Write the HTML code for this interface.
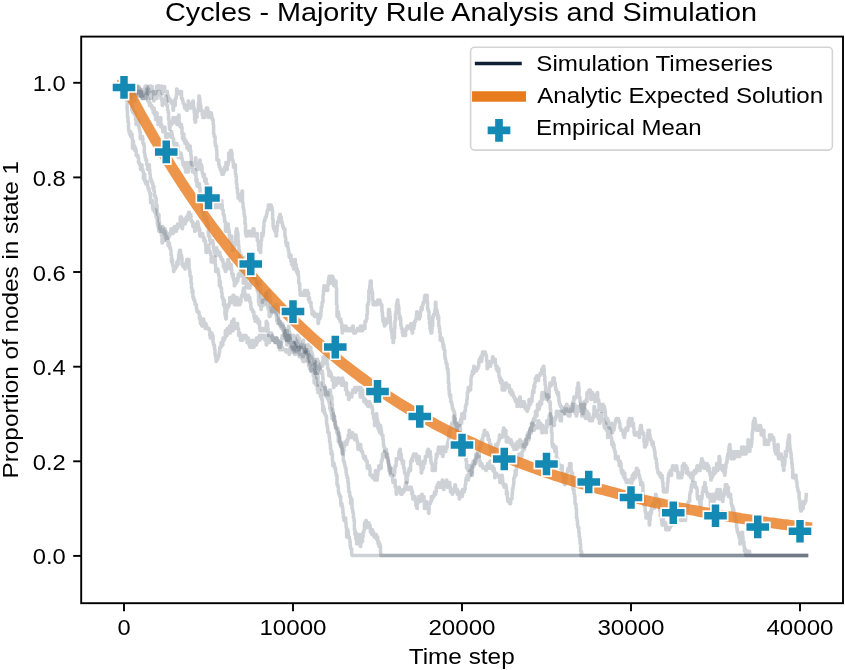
<!DOCTYPE html>
<html><head><meta charset="utf-8"><title>Cycles - Majority Rule Analysis and Simulation</title>
<style>html,body{margin:0;padding:0;background:#fff;}body{width:845px;height:670px;overflow:hidden;font-family:"Liberation Sans",sans-serif;}</style></head>
<body>
<svg width="845" height="670" viewBox="0 0 845 670" style="display:block;will-change:transform;font-family:'Liberation Sans',sans-serif">
<rect x="0" y="0" width="845" height="670" fill="#ffffff"/>
<defs><clipPath id="ax"><rect x="81.2" y="36.6" width="761.8" height="566.6"/></clipPath></defs>
<g clip-path="url(#ax)">
<path d="M124.0,89.0 L124.5,89.0 L124.9,89.0 L125.4,89.0 L125.8,89.0 L125.8,91.4 L126.3,91.4 L126.3,93.7 L126.8,93.7 L126.8,89.0 L127.2,89.0 L127.2,91.4 L127.7,91.4 L127.7,89.0 L128.2,89.0 L128.6,89.0 L128.6,86.6 L129.1,86.6 L129.5,86.6 L129.5,89.0 L130.0,89.0 L130.0,91.4 L130.5,91.4 L130.5,93.7 L130.9,93.7 L130.9,89.0 L131.4,89.0 L131.4,86.6 L131.8,86.6 L131.8,91.4 L132.3,91.4 L132.3,86.0 L132.7,86.0 L132.7,86.6 L133.2,86.6 L133.6,86.6 L133.6,91.4 L134.1,91.4 L134.1,93.7 L134.6,93.7 L134.6,91.4 L135.0,91.4 L135.0,89.0 L135.5,89.0 L135.9,89.0 L135.9,93.7 L136.4,93.7 L136.4,89.0 L136.8,89.0 L137.3,89.0 L137.7,89.0 L138.2,89.0 L138.7,89.0 L138.7,86.6 L139.1,86.6 L139.1,89.0 L139.6,89.0 L140.1,89.0 L140.1,93.7 L140.6,93.7 L140.6,96.1 L141.0,96.1 L141.0,93.7 L141.5,93.7 L141.5,96.1 L142.0,96.1 L142.0,93.7 L142.5,93.7 L142.5,96.1 L142.9,96.1 L142.9,93.7 L143.4,93.7 L143.9,93.7 L143.9,89.0 L144.4,89.0 L144.4,91.4 L144.9,91.4 L144.9,86.6 L145.4,86.6 L145.4,86.0 L145.9,86.0 L146.3,86.0 L146.8,86.0 L146.8,86.6 L147.3,86.6 L147.3,93.7 L147.8,93.7 L147.8,89.0 L148.2,89.0 L148.7,89.0 L148.7,91.4 L149.2,91.4 L149.2,93.7 L149.7,93.7 L150.1,93.7 L150.1,96.1 L150.6,96.1 L150.6,98.5 L151.0,98.5 L151.5,98.5 L151.5,93.7 L151.9,93.7 L152.4,93.7 L152.8,93.7 L152.8,91.4 L153.3,91.4 L153.3,93.7 L153.8,93.7 L153.8,91.4 L154.2,91.4 L154.2,93.7 L154.7,93.7 L155.1,93.7 L155.6,93.7 L155.6,91.4 L156.0,91.4 L156.5,91.4 L156.5,86.6 L157.0,86.6 L157.0,86.0 L157.4,86.0 L157.4,89.0 L157.9,89.0 L157.9,86.0 L158.4,86.0 L158.4,89.0 L158.9,89.0 L158.9,86.0 L159.3,86.0 L159.3,89.0 L159.8,89.0 L159.8,86.6 L160.3,86.6 L160.3,89.0 L160.8,89.0 L161.2,89.0 L161.2,86.0 L161.7,86.0 L161.7,89.0 L162.2,89.0 L162.2,93.7 L162.7,93.7 L162.7,91.4 L163.2,91.4 L163.2,89.0 L163.7,89.0 L164.2,89.0 L164.2,86.6 L164.7,86.6 L164.7,91.4 L165.2,91.4 L165.6,91.4 L166.1,91.4 L166.5,91.4 L167.0,91.4 L167.5,91.4 L167.5,96.1 L167.9,96.1 L168.4,96.1 L168.4,100.9 L168.8,100.9 L169.3,100.9 L169.3,98.5 L169.8,98.5 L169.8,100.9 L170.2,100.9 L170.7,100.9 L171.2,100.9 L171.2,103.2 L171.6,103.2 L172.1,103.2 L172.1,100.9 L172.5,100.9 L172.5,103.2 L173.0,103.2 L173.0,110.3 L173.5,110.3 L173.5,105.6 L173.9,105.6 L173.9,100.9 L174.4,100.9 L174.4,103.2 L174.8,103.2 L174.8,105.6 L175.3,105.6 L175.3,98.5 L175.7,98.5 L176.2,98.5 L176.2,96.1 L176.6,96.1 L176.6,89.0 L177.1,89.0 L177.1,93.7 L177.5,93.7 L177.5,91.4 L178.0,91.4 L178.5,91.4 L179.0,91.4 L179.0,93.7 L179.5,93.7 L180.0,93.7 L180.5,93.7 L180.5,91.4 L181.0,91.4 L181.5,91.4 L181.5,98.5 L182.0,98.5 L182.5,98.5 L182.5,100.9 L183.0,100.9 L183.0,103.2 L183.5,103.2 L184.0,103.2 L184.0,105.6 L184.5,105.6 L184.5,108.0 L185.0,108.0 L185.4,108.0 L185.4,105.6 L185.9,105.6 L186.3,105.6 L186.3,110.3 L186.8,110.3 L187.3,110.3 L187.3,108.0 L187.7,108.0 L187.7,105.6 L188.2,105.6 L188.2,100.9 L188.7,100.9 L188.7,105.6 L189.1,105.6 L189.1,108.0 L189.6,108.0 L189.6,105.6 L190.0,105.6 L190.5,105.6 L191.0,105.6 L191.0,108.0 L191.4,108.0 L191.9,108.0 L191.9,103.2 L192.3,103.2 L192.3,105.6 L192.8,105.6 L192.8,100.9 L193.3,100.9 L193.3,105.6 L193.7,105.6 L193.7,108.0 L194.2,108.0 L194.2,112.7 L194.6,112.7 L194.6,119.8 L195.1,119.8 L195.1,122.2 L195.5,122.2 L195.5,117.4 L196.0,117.4 L196.0,115.1 L196.5,115.1 L196.5,117.4 L197.0,117.4 L197.0,112.7 L197.5,112.7 L197.5,110.3 L197.9,110.3 L198.4,110.3 L198.4,103.2 L198.9,103.2 L198.9,96.1 L199.4,96.1 L199.4,98.5 L199.9,98.5 L199.9,103.2 L200.3,103.2 L200.3,105.6 L200.8,105.6 L200.8,110.3 L201.3,110.3 L201.8,110.3 L202.2,110.3 L202.2,115.1 L202.7,115.1 L202.7,117.4 L203.2,117.4 L203.2,112.7 L203.6,112.7 L203.6,117.4 L204.1,117.4 L204.5,117.4 L205.0,117.4 L205.0,115.1 L205.4,115.1 L205.4,112.7 L205.9,112.7 L205.9,110.3 L206.3,110.3 L206.3,108.0 L206.8,108.0 L206.8,110.3 L207.2,110.3 L207.2,108.0 L207.7,108.0 L207.7,110.3 L208.2,110.3 L208.2,112.7 L208.6,112.7 L208.6,117.4 L209.1,117.4 L209.1,112.7 L209.5,112.7 L209.5,115.1 L210.0,115.1 L210.4,115.1 L210.9,115.1 L210.9,112.7 L211.3,112.7 L211.3,115.1 L211.8,115.1 L211.8,117.4 L212.2,117.4 L212.2,119.8 L212.7,119.8 L213.2,119.8 L213.2,124.6 L213.6,124.6 L213.6,134.0 L214.1,134.0 L214.1,136.4 L214.6,136.4 L215.1,136.4 L215.1,143.5 L215.5,143.5 L215.5,145.9 L216.0,145.9 L216.5,145.9 L216.5,150.6 L216.9,150.6 L216.9,160.1 L217.4,160.1 L217.9,160.1 L218.4,160.1 L218.8,160.1 L218.8,164.8 L219.3,164.8 L219.3,167.2 L219.8,167.2 L220.2,167.2 L220.2,169.6 L220.7,169.6 L221.2,169.6 L221.2,172.0 L221.7,172.0 L221.7,174.3 L222.1,174.3 L222.6,174.3 L222.6,172.0 L223.1,172.0 L223.1,174.3 L223.5,174.3 L223.5,169.6 L224.0,169.6 L224.0,172.0 L224.5,172.0 L224.5,167.2 L224.9,167.2 L225.4,167.2 L225.9,167.2 L225.9,162.5 L226.3,162.5 L226.3,167.2 L226.8,167.2 L226.8,169.6 L227.3,169.6 L227.3,164.8 L227.7,164.8 L228.2,164.8 L228.2,162.5 L228.7,162.5 L228.7,153.0 L229.1,153.0 L229.1,155.4 L229.6,155.4 L230.1,155.4 L230.5,155.4 L230.5,150.6 L231.0,150.6 L231.5,150.6 L231.5,153.0 L232.0,153.0 L232.0,160.1 L232.5,160.1 L233.0,160.1 L233.0,162.5 L233.4,162.5 L233.4,167.2 L233.9,167.2 L234.4,167.2 L234.9,167.2 L234.9,164.8 L235.4,164.8 L235.4,174.3 L235.9,174.3 L235.9,176.7 L236.4,176.7 L236.4,183.8 L236.9,183.8 L236.9,188.5 L237.5,188.5 L237.5,193.3 L238.0,193.3 L238.0,198.0 L238.5,198.0 L239.0,198.0 L239.0,195.7 L239.5,195.7 L240.0,195.7 L240.0,200.4 L240.5,200.4 L240.5,198.0 L241.0,198.0 L241.0,195.7 L241.5,195.7 L241.5,193.3 L242.0,193.3 L242.0,190.9 L242.5,190.9 L242.5,202.8 L243.0,202.8 L243.0,207.5 L243.5,207.5 L243.5,209.9 L244.0,209.9 L244.0,214.6 L244.5,214.6 L244.5,217.0 L245.0,217.0 L245.0,224.1 L245.5,224.1 L245.5,233.6 L246.0,233.6 L246.0,235.9 L246.5,235.9 L246.9,235.9 L247.4,235.9 L247.9,235.9 L247.9,231.2 L248.3,231.2 L248.8,231.2 L249.3,231.2 L249.3,233.6 L249.8,233.6 L249.8,231.2 L250.2,231.2 L250.2,233.6 L250.7,233.6 L250.7,235.9 L251.2,235.9 L251.2,233.6 L251.6,233.6 L251.6,231.2 L252.1,231.2 L252.6,231.2 L253.0,231.2 L253.0,228.8 L253.5,228.8 L254.0,228.8 L254.0,235.9 L254.5,235.9 L254.5,233.6 L254.9,233.6 L255.4,233.6 L255.9,233.6 L255.9,235.9 L256.4,235.9 L256.4,233.6 L256.8,233.6 L257.3,233.6 L257.3,240.7 L257.8,240.7 L258.3,240.7 L258.3,245.4 L258.7,245.4 L258.7,250.2 L259.2,250.2 L259.7,250.2 L260.2,250.2 L260.2,252.5 L260.7,252.5 L260.7,245.4 L261.1,245.4 L261.1,240.7 L261.6,240.7 L261.6,233.6 L262.1,233.6 L262.6,233.6 L262.6,235.9 L263.0,235.9 L263.0,233.6 L263.5,233.6 L263.5,226.5 L264.0,226.5 L264.0,221.7 L264.5,221.7 L264.5,219.4 L264.9,219.4 L265.4,219.4 L265.4,217.0 L265.9,217.0 L266.4,217.0 L266.4,214.6 L266.9,214.6 L266.9,212.2 L267.3,212.2 L267.3,209.9 L267.8,209.9 L268.3,209.9 L268.3,205.1 L268.8,205.1 L269.2,205.1 L269.2,207.5 L269.7,207.5 L269.7,205.1 L270.2,205.1 L270.7,205.1 L271.2,205.1 L271.2,209.9 L271.7,209.9 L271.7,207.5 L272.1,207.5 L272.1,209.9 L272.6,209.9 L272.6,219.4 L273.1,219.4 L273.1,226.5 L273.6,226.5 L273.6,228.8 L274.1,228.8 L274.1,226.5 L274.6,226.5 L274.6,231.2 L275.1,231.2 L275.1,228.8 L275.6,228.8 L275.6,231.2 L276.0,231.2 L276.0,235.9 L276.5,235.9 L276.5,231.2 L277.0,231.2 L277.0,226.5 L277.5,226.5 L277.5,221.7 L277.9,221.7 L278.4,221.7 L278.9,221.7 L278.9,217.0 L279.4,217.0 L279.8,217.0 L279.8,214.6 L280.3,214.6 L280.3,217.0 L280.8,217.0 L281.3,217.0 L281.3,221.7 L281.7,221.7 L282.2,221.7 L282.2,224.1 L282.6,224.1 L282.6,226.5 L283.1,226.5 L283.5,226.5 L283.5,228.8 L284.0,228.8 L284.4,228.8 L284.9,228.8 L284.9,235.9 L285.3,235.9 L285.3,238.3 L285.8,238.3 L285.8,243.1 L286.3,243.1 L286.3,245.4 L286.8,245.4 L286.8,243.1 L287.2,243.1 L287.7,243.1 L287.7,247.8 L288.2,247.8 L288.2,250.2 L288.7,250.2 L288.7,252.5 L289.1,252.5 L289.1,257.3 L289.6,257.3 L290.1,257.3 L290.1,254.9 L290.6,254.9 L291.0,254.9 L291.0,262.0 L291.5,262.0 L291.5,264.4 L292.0,264.4 L292.0,259.6 L292.5,259.6 L292.5,264.4 L292.9,264.4 L292.9,266.8 L293.4,266.8 L293.4,269.1 L293.9,269.1 L293.9,264.4 L294.4,264.4 L294.4,262.0 L294.9,262.0 L294.9,259.6 L295.3,259.6 L295.3,266.8 L295.8,266.8 L295.8,264.4 L296.3,264.4 L296.3,271.5 L296.8,271.5 L296.8,269.1 L297.3,269.1 L297.3,273.9 L297.8,273.9 L297.8,271.5 L298.2,271.5 L298.2,276.2 L298.7,276.2 L298.7,283.3 L299.2,283.3 L299.7,283.3 L299.7,290.5 L300.2,290.5 L300.2,295.2 L300.7,295.2 L301.2,295.2 L301.6,295.2 L302.1,295.2 L302.5,295.2 L303.0,295.2 L303.0,292.8 L303.4,292.8 L303.9,292.8 L304.4,292.8 L304.4,290.5 L304.8,290.5 L304.8,292.8 L305.3,292.8 L305.3,295.2 L305.7,295.2 L305.7,290.5 L306.2,290.5 L306.2,292.8 L306.6,292.8 L307.1,292.8 L307.1,290.5 L307.5,290.5 L307.5,295.2 L308.0,295.2 L308.0,292.8 L308.5,292.8 L308.5,299.9 L309.0,299.9 L309.0,297.6 L309.5,297.6 L309.5,302.3 L310.0,302.3 L310.5,302.3 L311.0,302.3 L311.0,307.0 L311.5,307.0 L311.5,309.4 L312.0,309.4 L312.0,314.2 L312.5,314.2 L312.9,314.2 L312.9,311.8 L313.4,311.8 L313.9,311.8 L313.9,314.2 L314.3,314.2 L314.3,316.5 L314.8,316.5 L314.8,314.2 L315.2,314.2 L315.2,316.5 L315.7,316.5 L315.7,314.2 L316.2,314.2 L316.2,316.5 L316.6,316.5 L317.1,316.5 L317.1,314.2 L317.5,314.2 L317.5,316.5 L318.0,316.5 L318.0,323.6 L318.5,323.6 L318.5,318.9 L318.9,318.9 L319.4,318.9 L319.9,318.9 L319.9,316.5 L320.3,316.5 L320.8,316.5 L320.8,311.8 L321.2,311.8 L321.2,307.0 L321.7,307.0 L322.1,307.0 L322.1,302.3 L322.6,302.3 L323.0,302.3 L323.0,295.2 L323.5,295.2 L323.5,290.5 L323.9,290.5 L323.9,285.7 L324.4,285.7 L324.4,290.5 L324.9,290.5 L324.9,288.1 L325.3,288.1 L325.8,288.1 L326.3,288.1 L326.8,288.1 L326.8,285.7 L327.2,285.7 L327.2,290.5 L327.7,290.5 L327.7,285.7 L328.2,285.7 L328.2,281.0 L328.6,281.0 L328.6,278.6 L329.1,278.6 L329.1,276.2 L329.6,276.2 L329.6,281.0 L330.1,281.0 L330.1,283.3 L330.5,283.3 L330.5,278.6 L331.0,278.6 L331.0,276.2 L331.5,276.2 L331.9,276.2 L331.9,283.3 L332.4,283.3 L332.4,276.2 L332.8,276.2 L332.8,281.0 L333.3,281.0 L333.3,278.6 L333.7,278.6 L333.7,285.7 L334.2,285.7 L334.2,283.3 L334.6,283.3 L335.1,283.3 L335.1,281.0 L335.5,281.0 L336.0,281.0 L336.0,288.1 L336.5,288.1 L336.5,304.7 L337.0,304.7 L337.0,316.5 L337.5,316.5 L337.9,316.5 L337.9,311.8 L338.4,311.8 L338.4,314.2 L338.9,314.2 L338.9,318.9 L339.4,318.9 L339.9,318.9 L339.9,321.3 L340.3,321.3 L340.3,318.9 L340.8,318.9 L340.8,321.3 L341.3,321.3 L341.3,323.6 L341.8,323.6 L341.8,328.4 L342.2,328.4 L342.2,333.1 L342.7,333.1 L342.7,330.8 L343.2,330.8 L343.2,326.0 L343.7,326.0 L343.7,328.4 L344.1,328.4 L344.6,328.4 L344.6,326.0 L345.1,326.0 L345.1,328.4 L345.5,328.4 L345.5,326.0 L346.0,326.0 L346.0,330.8 L346.4,330.8 L346.9,330.8 L347.3,330.8 L347.8,330.8 L347.8,328.4 L348.2,328.4 L348.7,328.4 L349.1,328.4 L349.6,328.4 L349.6,330.8 L350.1,330.8 L350.5,330.8 L350.5,328.4 L351.0,328.4 L351.0,330.8 L351.4,330.8 L351.4,328.4 L351.9,328.4 L352.3,328.4 L352.3,330.8 L352.8,330.8 L352.8,326.0 L353.2,326.0 L353.2,330.8 L353.7,330.8 L353.7,333.1 L354.1,333.1 L354.6,333.1 L355.1,333.1 L355.5,333.1 L355.5,330.8 L356.0,330.8 L356.5,330.8 L357.0,330.8 L357.4,330.8 L357.4,328.4 L357.9,328.4 L357.9,330.8 L358.4,330.8 L358.8,330.8 L359.3,330.8 L359.3,328.4 L359.8,328.4 L359.8,330.8 L360.3,330.8 L360.3,326.0 L360.7,326.0 L360.7,328.4 L361.2,328.4 L361.2,330.8 L361.7,330.8 L362.1,330.8 L362.6,330.8 L362.6,328.4 L363.1,328.4 L363.1,326.0 L363.6,326.0 L363.6,328.4 L364.0,328.4 L364.5,328.4 L365.0,328.4 L365.0,321.3 L365.5,321.3 L365.9,321.3 L366.4,321.3 L366.4,318.9 L366.9,318.9 L366.9,314.2 L367.4,314.2 L367.4,304.7 L367.8,304.7 L368.3,304.7 L368.3,302.3 L368.8,302.3 L368.8,290.5 L369.3,290.5 L369.3,292.8 L369.7,292.8 L369.7,285.7 L370.2,285.7 L370.2,281.0 L370.7,281.0 L371.2,281.0 L371.2,288.1 L371.6,288.1 L371.6,290.5 L372.1,290.5 L372.1,292.8 L372.6,292.8 L372.6,299.9 L373.1,299.9 L373.1,304.7 L373.6,304.7 L374.0,304.7 L374.5,304.7 L375.0,304.7 L375.0,302.3 L375.4,302.3 L375.4,304.7 L375.9,304.7 L376.3,304.7 L376.8,304.7 L377.2,304.7 L377.2,302.3 L377.7,302.3 L377.7,299.9 L378.1,299.9 L378.1,302.3 L378.6,302.3 L379.0,302.3 L379.5,302.3 L379.5,299.9 L380.0,299.9 L380.0,302.3 L380.5,302.3 L380.5,304.7 L381.0,304.7 L381.5,304.7 L381.9,304.7 L381.9,311.8 L382.4,311.8 L382.4,316.5 L382.9,316.5 L382.9,321.3 L383.4,321.3 L383.4,318.9 L383.9,318.9 L383.9,323.6 L384.4,323.6 L384.4,326.0 L384.9,326.0 L384.9,323.6 L385.3,323.6 L385.3,318.9 L385.8,318.9 L386.2,318.9 L386.2,323.6 L386.7,323.6 L386.7,321.3 L387.1,321.3 L387.1,318.9 L387.6,318.9 L388.0,318.9 L388.5,318.9 L388.5,309.4 L388.9,309.4 L389.4,309.4 L389.4,311.8 L389.8,311.8 L389.8,316.5 L390.3,316.5 L390.3,323.6 L390.8,323.6 L390.8,328.4 L391.2,328.4 L391.2,330.8 L391.6,330.8 L391.6,333.1 L392.1,333.1 L392.1,337.9 L392.6,337.9 L393.0,337.9 L393.0,342.6 L393.5,342.6 L393.5,337.9 L394.0,337.9 L394.5,337.9 L394.5,328.4 L394.9,328.4 L394.9,321.3 L395.4,321.3 L395.4,314.2 L395.9,314.2 L395.9,311.8 L396.4,311.8 L396.4,304.7 L396.9,304.7 L396.9,302.3 L397.4,302.3 L397.4,299.9 L397.9,299.9 L397.9,304.7 L398.4,304.7 L398.4,307.0 L398.9,307.0 L398.9,314.2 L399.4,314.2 L399.4,318.9 L399.8,318.9 L399.8,316.5 L400.3,316.5 L400.3,318.9 L400.8,318.9 L400.8,326.0 L401.3,326.0 L401.3,328.4 L401.8,328.4 L402.3,328.4 L402.3,333.1 L402.8,333.1 L402.8,335.5 L403.2,335.5 L403.7,335.5 L403.7,333.1 L404.2,333.1 L404.2,335.5 L404.7,335.5 L404.7,333.1 L405.2,333.1 L405.2,335.5 L405.6,335.5 L405.6,330.8 L406.1,330.8 L406.1,328.4 L406.6,328.4 L407.1,328.4 L407.1,326.0 L407.6,326.0 L407.6,328.4 L408.0,328.4 L408.5,328.4 L408.5,326.0 L409.0,326.0 L409.5,326.0 L409.9,326.0 L409.9,328.4 L410.4,328.4 L410.4,326.0 L410.8,326.0 L410.8,323.6 L411.3,323.6 L411.3,326.0 L411.7,326.0 L411.7,330.8 L412.2,330.8 L412.2,333.1 L412.6,333.1 L412.6,328.4 L413.1,328.4 L413.1,326.0 L413.5,326.0 L413.5,328.4 L414.0,328.4 L414.0,326.0 L414.5,326.0 L414.5,321.3 L414.9,321.3 L415.4,321.3 L415.8,321.3 L415.8,318.9 L416.3,318.9 L416.3,314.2 L416.7,314.2 L416.7,311.8 L417.2,311.8 L417.2,316.5 L417.6,316.5 L418.1,316.5 L418.5,316.5 L419.0,316.5 L419.0,318.9 L419.5,318.9 L419.5,316.5 L419.9,316.5 L420.4,316.5 L420.4,311.8 L420.8,311.8 L420.8,309.4 L421.3,309.4 L421.3,307.0 L421.7,307.0 L421.7,309.4 L422.2,309.4 L422.2,307.0 L422.6,307.0 L422.6,304.7 L423.1,304.7 L423.1,302.3 L423.5,302.3 L424.0,302.3 L424.4,302.3 L424.4,297.6 L424.9,297.6 L424.9,295.2 L425.3,295.2 L425.8,295.2 L425.8,299.9 L426.2,299.9 L426.7,299.9 L426.7,295.2 L427.2,295.2 L427.2,302.3 L427.6,302.3 L427.6,309.4 L428.1,309.4 L428.5,309.4 L428.5,311.8 L429.0,311.8 L429.0,318.9 L429.5,318.9 L429.5,323.6 L429.9,323.6 L429.9,328.4 L430.4,328.4 L430.4,330.8 L430.9,330.8 L430.9,333.1 L431.3,333.1 L431.8,333.1 L431.8,328.4 L432.2,328.4 L432.2,326.0 L432.7,326.0 L432.7,316.5 L433.1,316.5 L433.6,316.5 L433.6,314.2 L434.0,314.2 L434.5,314.2 L434.9,314.2 L434.9,309.4 L435.4,309.4 L435.4,302.3 L435.9,302.3 L435.9,309.4 L436.4,309.4 L436.8,309.4 L436.8,311.8 L437.3,311.8 L437.3,314.2 L437.8,314.2 L437.8,318.9 L438.3,318.9 L438.3,316.5 L438.7,316.5 L438.7,326.0 L439.2,326.0 L439.2,328.4 L439.7,328.4 L439.7,333.1 L440.2,333.1 L440.2,340.2 L440.6,340.2 L441.1,340.2 L441.1,337.9 L441.6,337.9 L442.1,337.9 L442.1,340.2 L442.5,340.2 L442.5,342.6 L443.0,342.6 L443.0,347.3 L443.4,347.3 L443.4,345.0 L443.9,345.0 L443.9,349.7 L444.3,349.7 L444.8,349.7 L444.8,356.8 L445.2,356.8 L445.2,359.2 L445.7,359.2 L445.7,361.6 L446.1,361.6 L446.1,363.9 L446.6,363.9 L447.1,363.9 L447.1,368.7 L447.5,368.7 L448.0,368.7 L448.0,373.4 L448.4,373.4 L448.4,382.9 L448.9,382.9 L448.9,390.0 L449.3,390.0 L449.3,394.7 L449.8,394.7 L449.8,397.1 L450.2,397.1 L450.2,394.7 L450.7,394.7 L450.7,401.8 L451.1,401.8 L451.6,401.8 L451.6,404.2 L452.1,404.2 L452.1,406.6 L452.5,406.6 L452.5,409.0 L453.0,409.0 L453.4,409.0 L453.4,411.3 L453.9,411.3 L454.3,411.3 L454.3,413.7 L454.8,413.7 L454.8,423.2 L455.2,423.2 L455.7,423.2 L456.1,423.2 L456.1,425.5 L456.6,425.5 L456.6,430.3 L457.1,430.3 L457.1,425.5 L457.5,425.5 L457.5,423.2 L458.0,423.2 L458.0,425.5 L458.5,425.5 L458.9,425.5 L458.9,423.2 L459.4,423.2 L459.4,425.5 L459.8,425.5 L459.8,423.2 L460.3,423.2 L460.3,420.8 L460.8,420.8 L460.8,418.4 L461.2,418.4 L461.2,423.2 L461.7,423.2 L461.7,413.7 L462.1,413.7 L462.6,413.7 L463.1,413.7 L463.1,416.1 L463.5,416.1 L464.0,416.1 L464.0,418.4 L464.5,418.4 L464.5,411.3 L464.9,411.3 L465.4,411.3 L465.4,406.6 L465.9,406.6 L465.9,404.2 L466.3,404.2 L466.8,404.2 L466.8,399.5 L467.3,399.5 L467.3,392.4 L467.8,392.4 L468.2,392.4 L468.2,387.6 L468.7,387.6 L469.2,387.6 L469.6,387.6 L470.1,387.6 L470.1,390.0 L470.6,390.0 L470.6,385.3 L471.0,385.3 L471.0,378.1 L471.5,378.1 L471.5,375.8 L472.0,375.8 L472.0,373.4 L472.4,373.4 L472.4,371.0 L472.9,371.0 L472.9,373.4 L473.3,373.4 L473.8,373.4 L473.8,366.3 L474.2,366.3 L474.2,371.0 L474.7,371.0 L475.1,371.0 L475.6,371.0 L475.6,368.7 L476.0,368.7 L476.0,371.0 L476.5,371.0 L476.5,368.7 L476.9,368.7 L477.4,368.7 L477.9,368.7 L477.9,366.3 L478.3,366.3 L478.8,366.3 L478.8,361.6 L479.2,361.6 L479.2,359.2 L479.7,359.2 L480.2,359.2 L480.6,359.2 L480.6,356.8 L481.1,356.8 L481.1,361.6 L481.6,361.6 L481.6,359.2 L482.0,359.2 L482.0,354.4 L482.5,354.4 L482.5,352.1 L482.9,352.1 L483.4,352.1 L483.4,354.4 L483.9,354.4 L483.9,352.1 L484.3,352.1 L484.8,352.1 L485.3,352.1 L485.3,354.4 L485.7,354.4 L486.2,354.4 L486.2,356.8 L486.6,356.8 L486.6,361.6 L487.1,361.6 L487.1,368.7 L487.5,368.7 L487.5,363.9 L488.0,363.9 L488.0,361.6 L488.4,361.6 L488.9,361.6 L488.9,366.3 L489.3,366.3 L489.3,363.9 L489.8,363.9 L490.3,363.9 L490.3,366.3 L490.7,366.3 L490.7,363.9 L491.2,363.9 L491.2,361.6 L491.6,361.6 L492.1,361.6 L492.1,359.2 L492.5,359.2 L492.5,356.8 L493.0,356.8 L493.0,359.2 L493.4,359.2 L493.4,361.6 L493.9,361.6 L494.3,361.6 L494.3,359.2 L494.8,359.2 L495.3,359.2 L495.3,363.9 L495.7,363.9 L495.7,366.3 L496.2,366.3 L496.2,368.7 L496.6,368.7 L496.6,366.3 L497.1,366.3 L497.1,371.0 L497.5,371.0 L497.5,368.7 L498.0,368.7 L498.4,368.7 L498.9,368.7 L498.9,375.8 L499.3,375.8 L499.3,378.1 L499.8,378.1 L499.8,380.5 L500.3,380.5 L500.3,378.1 L500.7,378.1 L500.7,382.9 L501.2,382.9 L501.2,380.5 L501.6,380.5 L502.1,380.5 L502.1,390.0 L502.6,390.0 L503.0,390.0 L503.0,387.6 L503.5,387.6 L504.0,387.6 L504.5,387.6 L504.5,390.0 L504.9,390.0 L504.9,387.6 L505.4,387.6 L505.4,382.9 L505.9,382.9 L506.4,382.9 L506.4,385.3 L506.8,385.3 L507.3,385.3 L507.3,387.6 L507.8,387.6 L508.3,387.6 L508.7,387.6 L508.7,385.3 L509.2,385.3 L509.2,387.6 L509.7,387.6 L509.7,392.4 L510.2,392.4 L510.6,392.4 L510.6,390.0 L511.1,390.0 L511.5,390.0 L511.5,394.7 L512.0,394.7 L512.0,392.4 L512.4,392.4 L512.9,392.4 L512.9,394.7 L513.4,394.7 L513.4,397.1 L513.8,397.1 L514.3,397.1 L514.7,397.1 L514.7,399.5 L515.2,399.5 L515.6,399.5 L515.6,401.8 L516.1,401.8 L516.1,399.5 L516.5,399.5 L516.5,401.8 L517.0,401.8 L517.0,406.6 L517.5,406.6 L517.5,401.8 L517.9,401.8 L518.4,401.8 L518.4,404.2 L518.8,404.2 L518.8,399.5 L519.3,399.5 L519.7,399.5 L519.7,397.1 L520.2,397.1 L520.2,401.8 L520.6,401.8 L520.6,406.6 L521.1,406.6 L521.5,406.6 L521.5,401.8 L522.0,401.8 L522.5,401.8 L522.9,401.8 L523.4,401.8 L523.4,406.6 L523.8,406.6 L523.8,401.8 L524.3,401.8 L524.3,404.2 L524.7,404.2 L525.2,404.2 L525.2,409.0 L525.6,409.0 L526.1,409.0 L526.1,406.6 L526.5,406.6 L526.5,409.0 L527.0,409.0 L527.0,411.3 L527.5,411.3 L527.5,409.0 L528.0,409.0 L528.5,409.0 L528.5,406.6 L529.0,406.6 L529.0,399.5 L529.5,399.5 L529.5,401.8 L530.0,401.8 L530.0,404.2 L530.5,404.2 L530.5,401.8 L531.0,401.8 L531.5,401.8 L532.0,401.8 L532.0,397.1 L532.4,397.1 L532.4,392.4 L532.9,392.4 L532.9,390.0 L533.4,390.0 L533.4,392.4 L533.9,392.4 L533.9,385.3 L534.4,385.3 L534.4,387.6 L534.8,387.6 L534.8,382.9 L535.3,382.9 L535.3,378.1 L535.8,378.1 L535.8,380.5 L536.3,380.5 L536.7,380.5 L536.7,375.8 L537.2,375.8 L537.7,375.8 L537.7,378.1 L538.1,378.1 L538.1,380.5 L538.6,380.5 L538.6,375.8 L539.1,375.8 L539.5,375.8 L540.0,375.8 L540.0,373.4 L540.5,373.4 L541.0,373.4 L541.4,373.4 L541.4,371.0 L541.9,371.0 L541.9,368.7 L542.4,368.7 L542.8,368.7 L543.3,368.7 L543.3,366.3 L543.8,366.3 L543.8,368.7 L544.2,368.7 L544.2,375.8 L544.7,375.8 L544.7,380.5 L545.1,380.5 L545.1,385.3 L545.6,385.3 L545.6,390.0 L546.1,390.0 L546.1,392.4 L546.5,392.4 L546.5,399.5 L547.0,399.5 L547.0,397.1 L547.5,397.1 L547.9,397.1 L547.9,392.4 L548.4,392.4 L548.4,397.1 L548.8,397.1 L549.3,397.1 L549.3,387.6 L549.8,387.6 L549.8,382.9 L550.2,382.9 L550.2,385.3 L550.7,385.3 L551.2,385.3 L551.6,385.3 L551.6,382.9 L552.1,382.9 L552.5,382.9 L552.5,380.5 L553.0,380.5 L553.0,378.1 L553.5,378.1 L553.5,382.9 L553.9,382.9 L553.9,378.1 L554.4,378.1 L554.4,382.9 L554.8,382.9 L555.3,382.9 L555.3,387.6 L555.7,387.6 L555.7,390.0 L556.2,390.0 L556.6,390.0 L556.6,392.4 L557.1,392.4 L557.5,392.4 L557.5,394.7 L558.0,394.7 L558.0,392.4 L558.5,392.4 L558.5,397.1 L558.9,397.1 L558.9,401.8 L559.4,401.8 L559.4,404.2 L559.8,404.2 L560.3,404.2 L560.3,406.6 L560.7,406.6 L561.2,406.6 L561.7,406.6 L561.7,409.0 L562.1,409.0 L562.1,411.3 L562.6,411.3 L562.6,409.0 L563.0,409.0 L563.5,409.0 L563.9,409.0 L563.9,411.3 L564.4,411.3 L564.4,409.0 L564.9,409.0 L564.9,413.7 L565.4,413.7 L565.4,411.3 L565.8,411.3 L565.8,413.7 L566.3,413.7 L566.3,409.0 L566.8,409.0 L566.8,411.3 L567.2,411.3 L567.7,411.3 L568.2,411.3 L568.2,416.1 L568.7,416.1 L568.7,413.7 L569.1,413.7 L569.1,416.1 L569.6,416.1 L570.1,416.1 L570.1,411.3 L570.6,411.3 L570.6,409.0 L571.0,409.0 L571.0,411.3 L571.5,411.3 L572.0,411.3 L572.5,411.3 L572.5,409.0 L572.9,409.0 L572.9,401.8 L573.4,401.8 L573.8,401.8 L573.8,397.1 L574.3,397.1 L574.3,399.5 L574.8,399.5 L574.8,397.1 L575.2,397.1 L575.7,397.1 L576.2,397.1 L576.6,397.1 L576.6,392.4 L577.1,392.4 L577.1,387.6 L577.5,387.6 L578.0,387.6 L578.0,382.9 L578.5,382.9 L578.5,387.6 L579.0,387.6 L579.0,397.1 L579.4,397.1 L579.9,397.1 L579.9,401.8 L580.4,401.8 L580.8,401.8 L580.8,406.6 L581.3,406.6 L581.3,409.0 L581.8,409.0 L581.8,411.3 L582.3,411.3 L582.8,411.3 L582.8,413.7 L583.2,413.7 L583.2,411.3 L583.7,411.3 L583.7,409.0 L584.2,409.0 L584.2,401.8 L584.7,401.8 L584.7,404.2 L585.1,404.2 L585.1,401.8 L585.6,401.8 L586.1,401.8 L586.1,399.5 L586.6,399.5 L586.6,401.8 L587.0,401.8 L587.0,392.4 L587.5,392.4 L588.0,392.4 L588.5,392.4 L588.9,392.4 L588.9,390.0 L589.4,390.0 L589.4,392.4 L589.9,392.4 L589.9,390.0 L590.3,390.0 L590.3,392.4 L590.8,392.4 L590.8,399.5 L591.2,399.5 L591.7,399.5 L591.7,394.7 L592.2,394.7 L592.2,392.4 L592.6,392.4 L592.6,394.7 L593.1,394.7 L593.1,397.1 L593.6,397.1 L593.6,394.7 L594.0,394.7 L594.5,394.7 L594.5,399.5 L594.9,399.5 L594.9,401.8 L595.4,401.8 L595.4,399.5 L595.9,399.5 L595.9,397.1 L596.3,397.1 L596.3,394.7 L596.8,394.7 L597.2,394.7 L597.2,392.4 L597.7,392.4 L597.7,399.5 L598.1,399.5 L598.6,399.5 L598.6,401.8 L599.0,401.8 L599.0,409.0 L599.5,409.0 L599.9,409.0 L599.9,404.2 L600.4,404.2 L600.4,409.0 L600.9,409.0 L600.9,411.3 L601.3,411.3 L601.3,409.0 L601.8,409.0 L601.8,406.6 L602.2,406.6 L602.6,406.6 L602.6,404.2 L603.1,404.2 L603.1,411.3 L603.5,411.3 L603.5,406.6 L604.0,406.6 L604.5,406.6 L604.5,409.0 L604.9,409.0 L604.9,411.3 L605.4,411.3 L605.4,416.1 L605.8,416.1 L605.8,418.4 L606.3,418.4 L606.7,418.4 L606.7,423.2 L607.2,423.2 L607.2,418.4 L607.6,418.4 L607.6,420.8 L608.1,420.8 L608.5,420.8 L608.5,423.2 L609.0,423.2 L609.0,427.9 L609.5,427.9 L609.5,423.2 L609.9,423.2 L610.4,423.2 L610.4,425.5 L610.8,425.5 L611.3,425.5 L611.3,423.2 L611.7,423.2 L611.7,427.9 L612.2,427.9 L612.2,432.7 L612.6,432.7 L612.6,425.5 L613.1,425.5 L613.5,425.5 L613.5,430.3 L614.0,430.3 L614.0,427.9 L614.4,427.9 L614.4,425.5 L614.9,425.5 L614.9,423.2 L615.3,423.2 L615.3,420.8 L615.8,420.8 L616.2,420.8 L616.2,418.4 L616.7,418.4 L616.7,420.8 L617.2,420.8 L617.6,420.8 L618.1,420.8 L618.1,418.4 L618.5,418.4 L618.5,420.8 L619.0,420.8 L619.4,420.8 L619.4,423.2 L619.9,423.2 L619.9,427.9 L620.4,427.9 L620.8,427.9 L620.8,430.3 L621.3,430.3 L621.7,430.3 L622.2,430.3 L622.6,430.3 L623.1,430.3 L623.1,435.0 L623.5,435.0 L623.5,432.7 L624.0,432.7 L624.0,437.4 L624.5,437.4 L624.5,435.0 L624.9,435.0 L624.9,432.7 L625.4,432.7 L625.4,430.3 L625.9,430.3 L625.9,427.9 L626.4,427.9 L626.4,430.3 L626.8,430.3 L626.8,427.9 L627.3,427.9 L627.3,430.3 L627.8,430.3 L627.8,427.9 L628.2,427.9 L628.2,420.8 L628.7,420.8 L629.2,420.8 L629.2,418.4 L629.7,418.4 L629.7,420.8 L630.1,420.8 L630.1,423.2 L630.6,423.2 L630.6,425.5 L631.1,425.5 L631.1,420.8 L631.6,420.8 L631.6,418.4 L632.0,418.4 L632.0,423.2 L632.5,423.2 L633.0,423.2 L633.5,423.2 L633.5,427.9 L634.0,427.9 L634.0,432.7 L634.5,432.7 L634.5,435.0 L635.0,435.0 L635.0,432.7 L635.4,432.7 L635.9,432.7 L635.9,435.0 L636.4,435.0 L636.9,435.0 L636.9,432.7 L637.4,432.7 L637.4,435.0 L637.9,435.0 L637.9,432.7 L638.3,432.7 L638.8,432.7 L639.2,432.7 L639.2,437.4 L639.6,437.4 L639.6,430.3 L640.1,430.3 L640.1,427.9 L640.5,427.9 L640.5,425.5 L641.0,425.5 L641.5,425.5 L641.5,430.3 L642.0,430.3 L642.0,432.7 L642.5,432.7 L643.0,432.7 L643.5,432.7 L643.5,435.0 L644.0,435.0 L644.0,442.1 L644.5,442.1 L644.5,446.9 L645.0,446.9 L645.5,446.9 L645.5,444.5 L645.9,444.5 L646.4,444.5 L646.8,444.5 L646.8,442.1 L647.2,442.1 L647.2,439.8 L647.7,439.8 L647.7,432.7 L648.1,432.7 L648.1,430.3 L648.6,430.3 L648.6,435.0 L649.1,435.0 L649.1,430.3 L649.5,430.3 L649.5,435.0 L650.0,435.0 L650.0,437.4 L650.4,437.4 L650.4,439.8 L650.9,439.8 L651.3,439.8 L651.3,442.1 L651.8,442.1 L651.8,444.5 L652.3,444.5 L652.7,444.5 L652.7,442.1 L653.2,442.1 L653.2,446.9 L653.6,446.9 L654.1,446.9 L654.1,449.2 L654.5,449.2 L654.5,451.6 L655.0,451.6 L655.0,456.4 L655.5,456.4 L655.5,458.7 L656.0,458.7 L656.4,458.7 L656.4,463.5 L656.9,463.5 L656.9,468.2 L657.4,468.2 L657.4,470.6 L657.9,470.6 L657.9,472.9 L658.4,472.9 L658.8,472.9 L659.3,472.9 L659.3,475.3 L659.8,475.3 L659.8,472.9 L660.3,472.9 L660.3,475.3 L660.7,475.3 L660.7,477.7 L661.2,477.7 L661.6,477.7 L661.6,475.3 L662.1,475.3 L662.1,477.7 L662.5,477.7 L662.5,482.4 L663.0,482.4 L663.0,487.2 L663.4,487.2 L663.4,491.9 L663.9,491.9 L664.3,491.9 L664.8,491.9 L665.3,491.9 L665.7,491.9 L665.7,489.5 L666.2,489.5 L666.6,489.5 L666.6,491.9 L667.1,491.9 L667.1,487.2 L667.5,487.2 L667.5,482.4 L668.0,482.4 L668.0,477.7 L668.4,477.7 L668.4,475.3 L668.9,475.3 L668.9,472.9 L669.3,472.9 L669.3,475.3 L669.8,475.3 L670.3,475.3 L670.3,470.6 L670.7,470.6 L670.7,472.9 L671.2,472.9 L671.2,475.3 L671.6,475.3 L671.6,470.6 L672.1,470.6 L672.1,468.2 L672.5,468.2 L672.5,465.8 L673.0,465.8 L673.4,465.8 L673.9,465.8 L673.9,468.2 L674.3,468.2 L674.8,468.2 L675.3,468.2 L675.3,470.6 L675.7,470.6 L676.2,470.6 L676.2,465.8 L676.6,465.8 L676.6,468.2 L677.1,468.2 L677.1,470.6 L677.6,470.6 L677.6,472.9 L678.0,472.9 L678.0,477.7 L678.5,477.7 L679.0,477.7 L679.0,472.9 L679.5,472.9 L679.5,477.7 L679.9,477.7 L680.4,477.7 L680.4,475.3 L680.9,475.3 L680.9,477.7 L681.4,477.7 L681.8,477.7 L681.8,475.3 L682.3,475.3 L682.3,465.8 L682.8,465.8 L683.3,465.8 L683.7,465.8 L683.7,463.5 L684.2,463.5 L684.2,465.8 L684.7,465.8 L684.7,468.2 L685.2,468.2 L685.6,468.2 L685.6,465.8 L686.1,465.8 L686.1,472.9 L686.5,472.9 L686.5,470.6 L687.0,470.6 L687.0,468.2 L687.4,468.2 L687.4,470.6 L687.9,470.6 L687.9,472.9 L688.3,472.9 L688.8,472.9 L688.8,475.3 L689.2,475.3 L689.7,475.3 L690.2,475.3 L690.6,475.3 L690.6,477.7 L691.1,477.7 L691.1,472.9 L691.5,472.9 L691.5,475.3 L692.0,475.3 L692.0,472.9 L692.4,472.9 L692.4,480.1 L692.9,480.1 L692.9,475.3 L693.4,475.3 L693.8,475.3 L693.8,472.9 L694.3,472.9 L694.3,470.6 L694.7,470.6 L694.7,472.9 L695.2,472.9 L695.6,472.9 L696.1,472.9 L696.1,470.6 L696.5,470.6 L696.5,468.2 L697.0,468.2 L697.0,465.8 L697.5,465.8 L697.9,465.8 L697.9,468.2 L698.4,468.2 L698.4,470.6 L698.9,470.6 L698.9,468.2 L699.3,468.2 L699.3,470.6 L699.8,470.6 L700.2,470.6 L700.2,468.2 L700.7,468.2 L700.7,463.5 L701.2,463.5 L701.2,461.1 L701.6,461.1 L701.6,458.7 L702.1,458.7 L702.1,463.5 L702.6,463.5 L702.6,461.1 L703.0,461.1 L703.0,465.8 L703.5,465.8 L703.9,465.8 L703.9,468.2 L704.4,468.2 L704.9,468.2 L704.9,465.8 L705.3,465.8 L705.3,463.5 L705.8,463.5 L706.3,463.5 L706.7,463.5 L707.2,463.5 L707.2,465.8 L707.6,465.8 L707.6,470.6 L708.1,470.6 L708.1,465.8 L708.5,465.8 L708.5,470.6 L709.0,470.6 L709.0,468.2 L709.4,468.2 L709.4,472.9 L709.9,472.9 L709.9,475.3 L710.3,475.3 L710.8,475.3 L710.8,480.1 L711.3,480.1 L711.3,472.9 L711.8,472.9 L711.8,477.7 L712.2,477.7 L712.2,475.3 L712.7,475.3 L713.2,475.3 L713.6,475.3 L713.6,468.2 L714.1,468.2 L714.6,468.2 L714.6,470.6 L715.1,470.6 L715.1,472.9 L715.6,472.9 L715.6,470.6 L716.1,470.6 L716.6,470.6 L716.6,463.5 L717.0,463.5 L717.0,468.2 L717.5,468.2 L717.5,470.6 L718.0,470.6 L718.0,465.8 L718.5,465.8 L718.5,463.5 L719.0,463.5 L719.0,456.4 L719.5,456.4 L719.5,458.7 L720.0,458.7 L720.0,465.8 L720.4,465.8 L720.9,465.8 L720.9,468.2 L721.3,468.2 L721.8,468.2 L721.8,465.8 L722.2,465.8 L722.2,470.6 L722.7,470.6 L722.7,465.8 L723.1,465.8 L723.1,468.2 L723.6,468.2 L723.6,470.6 L724.0,470.6 L724.0,472.9 L724.5,472.9 L724.5,475.3 L725.0,475.3 L725.0,472.9 L725.4,472.9 L725.4,468.2 L725.9,468.2 L725.9,463.5 L726.3,463.5 L726.8,463.5 L726.8,461.1 L727.2,461.1 L727.2,456.4 L727.7,456.4 L727.7,454.0 L728.1,454.0 L728.6,454.0 L728.6,449.2 L729.0,449.2 L729.0,446.9 L729.5,446.9 L729.5,444.5 L730.0,444.5 L730.0,449.2 L730.4,449.2 L730.4,451.6 L730.9,451.6 L730.9,458.7 L731.4,458.7 L731.4,454.0 L731.8,454.0 L731.8,451.6 L732.3,451.6 L732.3,456.4 L732.8,456.4 L732.8,454.0 L733.2,454.0 L733.7,454.0 L733.7,458.7 L734.2,458.7 L734.2,456.4 L734.7,456.4 L734.7,454.0 L735.1,454.0 L735.1,451.6 L735.6,451.6 L735.6,454.0 L736.1,454.0 L736.1,456.4 L736.5,456.4 L736.5,454.0 L737.0,454.0 L737.0,451.6 L737.5,451.6 L737.5,456.4 L737.9,456.4 L738.4,456.4 L738.4,454.0 L738.9,454.0 L738.9,456.4 L739.3,456.4 L739.8,456.4 L739.8,451.6 L740.2,451.6 L740.7,451.6 L740.7,454.0 L741.2,454.0 L741.2,451.6 L741.6,451.6 L741.6,446.9 L742.1,446.9 L742.5,446.9 L742.5,451.6 L743.0,451.6 L743.0,454.0 L743.5,454.0 L743.5,446.9 L743.9,446.9 L743.9,454.0 L744.4,454.0 L744.4,449.2 L744.9,449.2 L744.9,451.6 L745.3,451.6 L745.3,454.0 L745.8,454.0 L746.2,454.0 L746.2,451.6 L746.7,451.6 L746.7,446.9 L747.1,446.9 L747.1,449.2 L747.6,449.2 L747.6,446.9 L748.0,446.9 L748.0,439.8 L748.5,439.8 L748.5,449.2 L748.9,449.2 L749.4,449.2 L749.4,451.6 L749.9,451.6 L749.9,444.5 L750.3,444.5 L750.3,446.9 L750.8,446.9 L751.2,446.9 L751.2,444.5 L751.7,444.5 L751.7,439.8 L752.1,439.8 L752.1,432.7 L752.6,432.7 L752.6,430.3 L753.0,430.3 L753.0,423.2 L753.5,423.2 L753.5,420.8 L753.9,420.8 L754.4,420.8 L754.4,418.4 L754.9,418.4 L754.9,420.8 L755.4,420.8 L755.4,423.2 L755.8,423.2 L755.8,427.9 L756.3,427.9 L756.3,430.3 L756.8,430.3 L756.8,427.9 L757.3,427.9 L757.3,430.3 L757.7,430.3 L757.7,427.9 L758.2,427.9 L758.7,427.9 L758.7,430.3 L759.2,430.3 L759.2,425.5 L759.6,425.5 L759.6,427.9 L760.1,427.9 L760.1,425.5 L760.6,425.5 L760.6,427.9 L761.1,427.9 L761.1,435.0 L761.6,435.0 L761.6,432.7 L762.0,432.7 L762.5,432.7 L763.0,432.7 L763.0,430.3 L763.5,430.3 L763.9,430.3 L763.9,437.4 L764.4,437.4 L764.4,444.5 L764.9,444.5 L764.9,442.1 L765.4,442.1 L765.4,439.8 L765.8,439.8 L765.8,442.1 L766.3,442.1 L766.8,442.1 L766.8,444.5 L767.3,444.5 L767.7,444.5 L768.2,444.5 L768.6,444.5 L768.6,442.1 L769.1,442.1 L769.1,439.8 L769.5,439.8 L769.5,435.0 L770.0,435.0 L770.0,437.4 L770.4,437.4 L770.4,435.0 L770.9,435.0 L770.9,437.4 L771.3,437.4 L771.3,435.0 L771.8,435.0 L771.8,437.4 L772.2,437.4 L772.2,439.8 L772.7,439.8 L772.7,437.4 L773.1,437.4 L773.6,437.4 L773.6,439.8 L774.0,439.8 L774.0,444.5 L774.5,444.5 L774.5,449.2 L774.9,449.2 L774.9,451.6 L775.4,451.6 L775.4,449.2 L775.9,449.2 L775.9,454.0 L776.3,454.0 L776.3,446.9 L776.8,446.9 L776.8,454.0 L777.2,454.0 L777.2,451.6 L777.6,451.6 L777.6,444.5 L778.1,444.5 L778.1,456.4 L778.5,456.4 L778.5,458.7 L779.0,458.7 L779.0,454.0 L779.5,454.0 L779.5,456.4 L779.9,456.4 L780.4,456.4 L780.4,458.7 L780.8,458.7 L780.8,454.0 L781.3,454.0 L781.3,456.4 L781.7,456.4 L781.7,458.7 L782.2,458.7 L782.2,461.1 L782.6,461.1 L782.6,465.8 L783.1,465.8 L783.5,465.8 L783.5,470.6 L784.0,470.6 L784.0,465.8 L784.5,465.8 L784.5,463.5 L784.9,463.5 L784.9,456.4 L785.4,456.4 L785.4,451.6 L785.8,451.6 L785.8,456.4 L786.3,456.4 L786.3,451.6 L786.7,451.6 L787.2,451.6 L787.2,446.9 L787.6,446.9 L787.6,442.1 L788.1,442.1 L788.1,439.8 L788.5,439.8 L788.5,437.4 L789.0,437.4 L789.0,435.0 L789.5,435.0 L789.5,444.5 L789.9,444.5 L789.9,449.2 L790.4,449.2 L790.4,451.6 L790.8,451.6 L790.8,454.0 L791.2,454.0 L791.2,458.7 L791.7,458.7 L791.7,463.5 L792.2,463.5 L792.2,468.2 L792.7,468.2 L792.7,477.7 L793.2,477.7 L793.7,477.7 L793.7,475.3 L794.2,475.3 L794.6,475.3 L795.1,475.3 L795.6,475.3 L796.1,475.3 L796.1,480.1 L796.6,480.1 L796.6,482.4 L797.1,482.4 L797.1,487.2 L797.6,487.2 L797.6,489.5 L798.1,489.5 L798.1,491.9 L798.6,491.9 L799.1,491.9 L799.1,499.0 L799.6,499.0 L799.6,501.4 L800.1,501.4 L800.1,508.5 L800.6,508.5 L800.6,510.9 L801.1,510.9 L801.6,510.9 L801.6,506.1 L802.2,506.1 L802.7,506.1 L802.7,508.5 L803.2,508.5 L803.2,501.4 L803.7,501.4 L804.2,501.4 L804.2,503.8 L804.8,503.8 L804.8,501.4 L805.3,501.4 L805.8,501.4 L806.3,494.5" fill="none" stroke="#0f2036" stroke-opacity="0.205" stroke-width="3.5" stroke-linejoin="round" stroke-linecap="square"/>
<path d="M124.0,86.0 L124.5,86.0 L124.5,91.4 L125.0,91.4 L125.6,91.4 L125.6,93.7 L126.1,93.7 L126.1,96.1 L126.6,96.1 L126.6,100.9 L127.1,100.9 L127.1,110.3 L127.5,110.3 L127.5,117.4 L128.0,117.4 L128.0,122.2 L128.5,122.2 L128.5,129.3 L128.9,129.3 L128.9,131.7 L129.4,131.7 L129.4,134.0 L129.8,134.0 L129.8,131.7 L130.3,131.7 L130.7,131.7 L130.7,136.4 L131.2,136.4 L131.6,136.4 L131.6,134.0 L132.1,134.0 L132.1,138.8 L132.5,138.8 L132.5,148.3 L133.0,148.3 L133.0,141.1 L133.5,141.1 L133.5,145.9 L133.9,145.9 L134.4,145.9 L134.8,145.9 L134.8,150.6 L135.3,150.6 L135.3,148.3 L135.7,148.3 L135.7,150.6 L136.2,150.6 L136.2,155.4 L136.6,155.4 L137.1,155.4 L137.5,155.4 L138.0,155.4 L138.0,157.7 L138.5,157.7 L138.5,162.5 L139.0,162.5 L139.5,162.5 L139.5,164.8 L140.0,164.8 L140.5,164.8 L140.5,169.6 L141.0,169.6 L141.5,169.6 L141.5,164.8 L142.0,164.8 L142.0,169.6 L142.5,169.6 L142.9,169.6 L142.9,172.0 L143.4,172.0 L143.4,179.1 L143.8,179.1 L143.8,174.3 L144.3,174.3 L144.8,174.3 L144.8,181.4 L145.2,181.4 L145.7,181.4 L145.7,183.8 L146.2,183.8 L146.6,183.8 L146.6,181.4 L147.1,181.4 L147.5,181.4 L147.5,186.2 L148.0,186.2 L148.0,188.5 L148.5,188.5 L149.0,188.5 L149.0,190.9 L149.5,190.9 L149.5,193.3 L150.0,193.3 L150.5,193.3 L150.5,202.8 L151.0,202.8 L151.5,202.8 L151.5,200.4 L152.0,200.4 L152.5,200.4 L152.5,207.5 L153.0,207.5 L153.0,209.9 L153.5,209.9 L154.0,209.9 L154.5,209.9 L154.5,212.2 L155.0,212.2 L155.0,209.9 L155.5,209.9 L155.9,209.9 L155.9,217.0 L156.4,217.0 L156.9,217.0 L156.9,219.4 L157.3,219.4 L157.3,224.1 L157.8,224.1 L157.8,226.5 L158.3,226.5 L158.3,224.1 L158.7,224.1 L158.7,231.2 L159.2,231.2 L159.7,231.2 L159.7,228.8 L160.1,228.8 L160.1,231.2 L160.6,231.2 L161.1,231.2 L161.1,228.8 L161.5,228.8 L161.5,231.2 L162.0,231.2 L162.5,231.2 L162.5,226.5 L162.9,226.5 L162.9,231.2 L163.4,231.2 L163.9,231.2 L163.9,233.6 L164.4,233.6 L164.4,231.2 L164.8,231.2 L164.8,233.6 L165.3,233.6 L165.3,235.9 L165.8,235.9 L165.8,238.3 L166.2,238.3 L166.2,235.9 L166.7,235.9 L166.7,240.7 L167.2,240.7 L167.2,238.3 L167.6,238.3 L167.6,240.7 L168.1,240.7 L168.1,245.4 L168.6,245.4 L168.6,243.1 L169.1,243.1 L169.5,243.1 L169.5,247.8 L170.0,247.8 L170.5,247.8 L170.5,250.2 L171.0,250.2 L171.0,254.9 L171.5,254.9 L171.5,262.0 L172.0,262.0 L172.0,259.6 L172.5,259.6 L172.5,264.4 L173.0,264.4 L173.0,266.8 L173.5,266.8 L173.5,271.5 L174.0,271.5 L174.0,269.1 L174.4,269.1 L174.4,266.8 L174.9,266.8 L174.9,269.1 L175.4,269.1 L175.4,266.8 L175.8,266.8 L176.3,266.8 L176.8,266.8 L176.8,262.0 L177.2,262.0 L177.7,262.0 L177.7,264.4 L178.1,264.4 L178.1,259.6 L178.6,259.6 L178.6,254.9 L179.1,254.9 L179.1,252.5 L179.5,252.5 L179.5,250.2 L180.0,250.2 L180.5,250.2 L180.5,254.9 L181.0,254.9 L181.5,254.9 L181.5,257.3 L182.0,257.3 L182.0,264.4 L182.5,264.4 L183.0,264.4 L183.0,266.8 L183.5,266.8 L184.0,266.8 L184.0,264.4 L184.4,264.4 L184.9,264.4 L184.9,269.1 L185.3,269.1 L185.3,266.8 L185.8,266.8 L185.8,264.4 L186.2,264.4 L186.2,262.0 L186.7,262.0 L186.7,259.6 L187.1,259.6 L187.1,262.0 L187.6,262.0 L187.6,259.6 L188.0,259.6 L188.0,264.4 L188.5,264.4 L188.5,259.6 L189.0,259.6 L189.0,269.1 L189.5,269.1 L189.5,271.5 L190.0,271.5 L190.0,276.2 L190.5,276.2 L191.0,276.2 L191.0,283.3 L191.5,283.3 L191.5,288.1 L192.0,288.1 L192.0,292.8 L192.5,292.8 L192.5,290.5 L192.9,290.5 L192.9,297.6 L193.4,297.6 L193.8,297.6 L193.8,299.9 L194.3,299.9 L194.7,299.9 L194.7,302.3 L195.2,302.3 L195.2,304.7 L195.6,304.7 L196.1,304.7 L196.5,304.7 L196.5,309.4 L197.0,309.4 L197.0,311.8 L197.5,311.8 L197.9,311.8 L198.4,311.8 L198.9,311.8 L198.9,314.2 L199.4,314.2 L199.4,318.9 L199.8,318.9 L199.8,316.5 L200.3,316.5 L200.3,323.6 L200.8,323.6 L201.3,323.6 L201.8,323.6 L201.8,326.0 L202.2,326.0 L202.2,321.3 L202.7,321.3 L202.7,318.9 L203.2,318.9 L203.7,318.9 L203.7,321.3 L204.1,321.3 L204.1,323.6 L204.6,323.6 L204.6,326.0 L205.1,326.0 L205.1,328.4 L205.5,328.4 L205.5,323.6 L206.0,323.6 L206.0,328.4 L206.4,328.4 L206.4,326.0 L206.9,326.0 L206.9,328.4 L207.4,328.4 L207.8,328.4 L208.3,328.4 L208.8,328.4 L209.2,328.4 L209.2,330.8 L209.7,330.8 L209.7,335.5 L210.2,335.5 L210.2,337.9 L210.6,337.9 L210.6,335.5 L211.1,335.5 L211.5,335.5 L211.5,333.1 L212.0,333.1 L212.0,337.9 L212.5,337.9 L212.5,335.5 L213.0,335.5 L213.0,342.6 L213.5,342.6 L213.5,345.0 L214.0,345.0 L214.5,345.0 L214.5,349.7 L215.0,349.7 L215.0,354.4 L215.5,354.4 L215.5,356.8 L216.0,356.8 L216.0,361.6 L216.5,361.6 L216.5,359.2 L216.9,359.2 L217.4,359.2 L217.8,359.2 L217.8,356.8 L218.3,356.8 L218.8,356.8 L218.8,354.4 L219.2,354.4 L219.2,352.1 L219.7,352.1 L219.7,347.3 L220.2,347.3 L220.6,347.3 L221.1,347.3 L221.1,342.6 L221.5,342.6 L221.5,345.0 L222.0,345.0 L222.5,345.0 L222.9,345.0 L222.9,337.9 L223.4,337.9 L223.9,337.9 L223.9,340.2 L224.3,340.2 L224.3,337.9 L224.8,337.9 L225.3,337.9 L225.3,330.8 L225.8,330.8 L225.8,335.5 L226.2,335.5 L226.2,333.1 L226.7,333.1 L226.7,335.5 L227.2,335.5 L227.2,328.4 L227.6,328.4 L227.6,333.1 L228.1,333.1 L228.1,330.8 L228.6,330.8 L228.6,333.1 L229.0,333.1 L229.0,328.4 L229.5,328.4 L229.5,326.0 L230.0,326.0 L230.0,333.1 L230.4,333.1 L230.4,328.4 L230.9,328.4 L230.9,326.0 L231.3,326.0 L231.3,323.6 L231.8,323.6 L231.8,321.3 L232.2,321.3 L232.2,326.0 L232.7,326.0 L232.7,330.8 L233.1,330.8 L233.1,326.0 L233.6,326.0 L233.6,318.9 L234.0,318.9 L234.0,323.6 L234.5,323.6 L234.5,326.0 L235.0,326.0 L235.4,326.0 L235.4,328.4 L235.9,328.4 L235.9,326.0 L236.3,326.0 L236.8,326.0 L236.8,323.6 L237.2,323.6 L237.7,323.6 L237.7,328.4 L238.1,328.4 L238.6,328.4 L238.6,335.5 L239.0,335.5 L239.5,335.5 L239.5,333.1 L240.0,333.1 L240.0,335.5 L240.4,335.5 L240.4,340.2 L240.9,340.2 L241.4,340.2 L241.4,335.5 L241.8,335.5 L242.3,335.5 L242.3,340.2 L242.8,340.2 L242.8,337.9 L243.2,337.9 L243.2,335.5 L243.7,335.5 L243.7,337.9 L244.2,337.9 L244.7,337.9 L244.7,335.5 L245.1,335.5 L245.6,335.5 L246.1,335.5 L246.1,337.9 L246.5,337.9 L247.0,337.9 L247.0,342.6 L247.5,342.6 L247.9,342.6 L247.9,337.9 L248.4,337.9 L248.4,340.2 L248.9,340.2 L248.9,345.0 L249.3,345.0 L249.8,345.0 L249.8,347.3 L250.3,347.3 L250.3,345.0 L250.7,345.0 L250.7,342.6 L251.2,342.6 L251.2,347.3 L251.7,347.3 L251.7,342.6 L252.1,342.6 L252.1,340.2 L252.6,340.2 L252.6,345.0 L253.1,345.0 L253.5,345.0 L253.5,347.3 L254.0,347.3 L254.0,345.0 L254.5,345.0 L254.5,342.6 L254.9,342.6 L254.9,340.2 L255.4,340.2 L255.4,342.6 L255.9,342.6 L255.9,345.0 L256.4,345.0 L256.4,337.9 L256.8,337.9 L256.8,342.6 L257.3,342.6 L257.3,337.9 L257.8,337.9 L258.2,337.9 L258.2,340.2 L258.7,340.2 L259.2,340.2 L259.2,335.5 L259.6,335.5 L259.6,340.2 L260.1,340.2 L260.1,335.5 L260.6,335.5 L260.6,337.9 L261.1,337.9 L261.1,335.5 L261.5,335.5 L261.5,337.9 L262.0,337.9 L262.0,335.5 L262.5,335.5 L262.5,337.9 L262.9,337.9 L262.9,335.5 L263.4,335.5 L263.4,337.9 L263.9,337.9 L263.9,335.5 L264.3,335.5 L264.8,335.5 L264.8,340.2 L265.3,340.2 L265.7,340.2 L265.7,337.9 L266.2,337.9 L266.2,345.0 L266.7,345.0 L266.7,342.6 L267.1,342.6 L267.1,337.9 L267.6,337.9 L267.6,340.2 L268.1,340.2 L268.1,335.5 L268.5,335.5 L268.5,340.2 L269.0,340.2 L269.0,342.6 L269.5,342.6 L269.5,340.2 L269.9,340.2 L269.9,337.9 L270.4,337.9 L270.4,340.2 L270.8,340.2 L271.3,340.2 L271.3,337.9 L271.7,337.9 L271.7,340.2 L272.2,340.2 L272.2,335.5 L272.6,335.5 L272.6,337.9 L273.1,337.9 L273.5,337.9 L274.0,337.9 L274.0,340.2 L274.5,340.2 L274.5,337.9 L274.9,337.9 L274.9,342.6 L275.4,342.6 L275.8,342.6 L275.8,340.2 L276.3,340.2 L276.3,337.9 L276.7,337.9 L277.2,337.9 L277.2,340.2 L277.6,340.2 L278.1,340.2 L278.1,342.6 L278.5,342.6 L278.5,345.0 L279.0,345.0 L279.0,347.3 L279.5,347.3 L279.5,349.7 L279.9,349.7 L279.9,347.3 L280.4,347.3 L280.4,342.6 L280.8,342.6 L280.8,347.3 L281.3,347.3 L281.8,347.3 L281.8,349.7 L282.2,349.7 L282.2,347.3 L282.7,347.3 L282.7,349.7 L283.1,349.7 L283.6,349.7 L284.0,349.7 L284.5,349.7 L285.0,349.7 L285.4,349.7 L285.9,349.7 L285.9,352.1 L286.3,352.1 L286.3,349.7 L286.8,349.7 L286.8,352.1 L287.2,352.1 L287.7,352.1 L288.2,352.1 L288.6,352.1 L288.6,349.7 L289.1,349.7 L289.1,354.4 L289.5,354.4 L289.5,352.1 L290.0,352.1 L290.0,347.3 L290.5,347.3 L290.9,347.3 L291.4,347.3 L291.4,352.1 L291.8,352.1 L292.3,352.1 L292.7,352.1 L292.7,347.3 L293.2,347.3 L293.6,347.3 L294.1,347.3 L294.1,352.1 L294.5,352.1 L294.5,347.3 L295.0,347.3 L295.5,347.3 L295.9,347.3 L295.9,342.6 L296.4,342.6 L296.8,342.6 L297.3,342.6 L297.3,335.5 L297.7,335.5 L297.7,340.2 L298.2,340.2 L298.2,342.6 L298.6,342.6 L298.6,340.2 L299.1,340.2 L299.1,337.9 L299.5,337.9 L299.5,342.6 L300.0,342.6 L300.5,342.6 L300.5,345.0 L300.9,345.0 L300.9,347.3 L301.4,347.3 L301.4,345.0 L301.8,345.0 L301.8,347.3 L302.3,347.3 L302.3,345.0 L302.7,345.0 L303.2,345.0 L303.2,347.3 L303.6,347.3 L304.1,347.3 L304.1,352.1 L304.5,352.1 L305.0,352.1 L305.0,349.7 L305.5,349.7 L305.9,349.7 L305.9,352.1 L306.4,352.1 L306.4,349.7 L306.8,349.7 L306.8,352.1 L307.3,352.1 L307.7,352.1 L308.2,352.1 L308.2,354.4 L308.6,354.4 L309.1,354.4 L309.1,361.6 L309.5,361.6 L309.5,363.9 L310.0,363.9 L310.5,363.9 L310.9,363.9 L310.9,371.0 L311.4,371.0 L311.4,368.7 L311.8,368.7 L312.3,368.7 L312.3,371.0 L312.8,371.0 L313.2,371.0 L313.2,375.8 L313.7,375.8 L314.1,375.8 L314.1,382.9 L314.6,382.9 L314.6,378.1 L315.0,378.1 L315.0,380.5 L315.5,380.5 L315.5,378.1 L316.0,378.1 L316.0,385.3 L316.4,385.3 L316.9,385.3 L317.3,385.3 L317.3,390.0 L317.8,390.0 L317.8,392.4 L318.2,392.4 L318.2,390.0 L318.7,390.0 L319.2,390.0 L319.6,390.0 L319.6,392.4 L320.1,392.4 L320.1,394.7 L320.5,394.7 L320.5,397.1 L321.0,397.1 L321.5,397.1 L321.5,399.5 L321.9,399.5 L322.4,399.5 L322.4,404.2 L322.8,404.2 L322.8,411.3 L323.3,411.3 L323.3,406.6 L323.7,406.6 L323.7,409.0 L324.2,409.0 L324.2,411.3 L324.6,411.3 L324.6,413.7 L325.1,413.7 L325.5,413.7 L325.5,416.1 L326.0,416.1 L326.5,416.1 L326.5,423.2 L326.9,423.2 L326.9,425.5 L327.4,425.5 L327.4,427.9 L327.8,427.9 L327.8,432.7 L328.3,432.7 L328.7,432.7 L329.2,432.7 L329.2,437.4 L329.6,437.4 L329.6,442.1 L330.1,442.1 L330.1,444.5 L330.5,444.5 L330.5,449.2 L331.0,449.2 L331.0,454.0 L331.5,454.0 L331.5,451.6 L331.9,451.6 L331.9,454.0 L332.4,454.0 L332.4,461.1 L332.8,461.1 L332.8,465.8 L333.3,465.8 L333.3,463.5 L333.8,463.5 L334.2,463.5 L334.2,465.8 L334.7,465.8 L334.7,468.2 L335.2,468.2 L335.6,468.2 L335.6,472.9 L336.1,472.9 L336.1,475.3 L336.5,475.3 L337.0,475.3 L337.0,484.8 L337.5,484.8 L337.9,484.8 L337.9,487.2 L338.4,487.2 L338.4,491.9 L338.8,491.9 L338.8,494.3 L339.3,494.3 L339.7,494.3 L339.7,496.6 L340.2,496.6 L340.7,496.6 L340.7,503.8 L341.1,503.8 L341.1,506.1 L341.6,506.1 L341.6,503.8 L342.0,503.8 L342.0,506.1 L342.5,506.1 L342.5,508.5 L342.9,508.5 L342.9,513.2 L343.4,513.2 L343.4,518.0 L343.9,518.0 L343.9,520.4 L344.3,520.4 L344.8,520.4 L345.2,520.4 L345.2,518.0 L345.7,518.0 L345.7,522.7 L346.1,522.7 L346.1,527.5 L346.6,527.5 L346.6,536.9 L347.0,536.9 L347.0,534.6 L347.5,534.6 L347.5,529.8 L347.9,529.8 L347.9,532.2 L348.4,532.2 L348.4,536.9 L348.8,536.9 L349.3,536.9 L349.3,539.3 L349.8,539.3 L349.8,541.7 L350.2,541.7 L350.2,546.4 L350.6,546.4 L350.6,548.8 L351.1,548.8 L351.6,548.8 L351.6,553.5 L352.0,555.5 L806.5,555.5 L806.5,555.5" fill="none" stroke="#0f2036" stroke-opacity="0.205" stroke-width="3.5" stroke-linejoin="round" stroke-linecap="square"/>
<path d="M124.0,86.6 L124.5,86.6 L124.9,86.6 L124.9,86.0 L125.4,86.0 L125.8,86.0 L125.8,89.0 L126.3,89.0 L126.3,86.6 L126.8,86.6 L126.8,89.0 L127.2,89.0 L127.2,93.7 L127.7,93.7 L128.2,93.7 L128.6,93.7 L129.1,93.7 L129.1,98.5 L129.5,98.5 L129.5,100.9 L130.0,100.9 L130.5,100.9 L130.5,96.1 L130.9,96.1 L131.4,96.1 L131.4,103.2 L131.8,103.2 L131.8,110.3 L132.3,110.3 L132.8,110.3 L132.8,112.7 L133.2,112.7 L133.2,110.3 L133.7,110.3 L133.7,112.7 L134.2,112.7 L134.6,112.7 L134.6,115.1 L135.1,115.1 L135.1,112.7 L135.5,112.7 L135.5,119.8 L136.0,119.8 L136.0,124.6 L136.5,124.6 L136.5,119.8 L136.9,119.8 L137.4,119.8 L137.4,122.2 L137.8,122.2 L137.8,124.6 L138.3,124.6 L138.3,119.8 L138.8,119.8 L138.8,126.9 L139.2,126.9 L139.2,129.3 L139.7,129.3 L139.7,131.7 L140.2,131.7 L140.2,138.8 L140.6,138.8 L141.1,138.8 L141.1,136.4 L141.5,136.4 L141.5,138.8 L142.0,138.8 L142.0,136.4 L142.5,136.4 L142.5,138.8 L142.9,138.8 L142.9,143.5 L143.4,143.5 L143.8,143.5 L143.8,145.9 L144.3,145.9 L144.3,153.0 L144.8,153.0 L144.8,155.4 L145.2,155.4 L145.2,157.7 L145.7,157.7 L145.7,160.1 L146.2,160.1 L146.6,160.1 L146.6,164.8 L147.1,164.8 L147.5,164.8 L147.5,169.6 L148.0,169.6 L148.0,167.2 L148.5,167.2 L148.9,167.2 L148.9,164.8 L149.4,164.8 L149.4,169.6 L149.8,169.6 L149.8,174.3 L150.3,174.3 L150.3,179.1 L150.7,179.1 L151.2,179.1 L151.2,181.4 L151.6,181.4 L152.1,181.4 L152.1,183.8 L152.5,183.8 L153.0,183.8 L153.0,188.5 L153.5,188.5 L153.5,186.2 L153.9,186.2 L153.9,190.9 L154.4,190.9 L154.4,195.7 L154.8,195.7 L155.3,195.7 L155.3,198.0 L155.7,198.0 L156.2,198.0 L156.2,207.5 L156.6,207.5 L156.6,205.1 L157.1,205.1 L157.1,212.2 L157.5,212.2 L157.5,214.6 L158.0,214.6 L158.5,214.6 L159.0,214.6 L159.0,221.7 L159.5,221.7 L159.5,228.8 L160.0,228.8 L160.0,226.5 L160.5,226.5 L160.5,228.8 L161.0,228.8 L161.0,233.6 L161.5,233.6 L161.5,235.9 L162.0,235.9 L162.0,243.1 L162.5,243.1 L162.5,238.3 L162.9,238.3 L163.4,238.3 L163.4,233.6 L163.8,233.6 L163.8,240.7 L164.3,240.7 L164.3,235.9 L164.7,235.9 L164.7,228.8 L165.2,228.8 L165.2,231.2 L165.6,231.2 L166.1,231.2 L166.1,238.3 L166.5,238.3 L166.5,235.9 L167.0,235.9 L167.0,233.6 L167.5,233.6 L167.5,235.9 L167.9,235.9 L167.9,238.3 L168.4,238.3 L168.4,235.9 L168.8,235.9 L169.3,235.9 L169.7,235.9 L169.7,233.6 L170.2,233.6 L170.6,233.6 L170.6,231.2 L171.1,231.2 L171.1,228.8 L171.5,228.8 L171.5,233.6 L172.0,233.6 L172.0,228.8 L172.5,228.8 L172.5,231.2 L172.9,231.2 L172.9,233.6 L173.4,233.6 L173.4,231.2 L173.8,231.2 L173.8,228.8 L174.3,228.8 L174.3,226.5 L174.7,226.5 L174.7,228.8 L175.2,228.8 L175.2,231.2 L175.6,231.2 L175.6,228.8 L176.1,228.8 L176.1,231.2 L176.5,231.2 L176.5,228.8 L177.0,228.8 L177.5,228.8 L177.5,224.1 L177.9,224.1 L177.9,226.5 L178.4,226.5 L178.8,226.5 L178.8,224.1 L179.3,224.1 L179.3,226.5 L179.8,226.5 L180.2,226.5 L180.2,217.0 L180.7,217.0 L180.7,219.4 L181.1,219.4 L181.1,217.0 L181.6,217.0 L181.6,221.7 L182.1,221.7 L182.1,228.8 L182.5,228.8 L182.5,224.1 L183.0,224.1 L183.0,221.7 L183.4,221.7 L183.4,219.4 L183.9,219.4 L183.9,221.7 L184.4,221.7 L184.8,221.7 L184.8,224.1 L185.3,224.1 L185.3,219.4 L185.7,219.4 L185.7,221.7 L186.2,221.7 L186.2,217.0 L186.7,217.0 L187.1,217.0 L187.1,219.4 L187.6,219.4 L188.0,219.4 L188.0,214.6 L188.5,214.6 L188.5,212.2 L189.0,212.2 L189.4,212.2 L189.4,214.6 L189.9,214.6 L189.9,219.4 L190.4,219.4 L190.4,214.6 L190.9,214.6 L190.9,219.4 L191.3,219.4 L191.3,221.7 L191.8,221.7 L192.3,221.7 L192.8,221.7 L192.8,226.5 L193.2,226.5 L193.7,226.5 L194.2,226.5 L194.6,226.5 L194.6,231.2 L195.1,231.2 L195.1,224.1 L195.6,224.1 L195.6,228.8 L196.1,228.8 L196.1,226.5 L196.5,226.5 L197.0,226.5 L197.0,224.1 L197.5,224.1 L197.5,221.7 L197.9,221.7 L197.9,224.1 L198.4,224.1 L198.4,226.5 L198.9,226.5 L198.9,231.2 L199.4,231.2 L199.4,228.8 L199.8,228.8 L199.8,235.9 L200.3,235.9 L200.8,235.9 L201.3,235.9 L201.8,235.9 L202.2,235.9 L202.2,233.6 L202.7,233.6 L202.7,235.9 L203.2,235.9 L203.2,238.3 L203.7,238.3 L203.7,240.7 L204.1,240.7 L204.1,238.3 L204.6,238.3 L204.6,240.7 L205.1,240.7 L205.5,240.7 L205.5,245.4 L206.0,245.4 L206.0,252.5 L206.4,252.5 L206.9,252.5 L206.9,250.2 L207.4,250.2 L207.4,247.8 L207.8,247.8 L207.8,245.4 L208.3,245.4 L208.8,245.4 L208.8,250.2 L209.2,250.2 L209.7,250.2 L209.7,252.5 L210.2,252.5 L210.6,252.5 L210.6,254.9 L211.1,254.9 L211.1,262.0 L211.5,262.0 L211.5,259.6 L212.0,259.6 L212.5,259.6 L212.5,257.3 L212.9,257.3 L212.9,262.0 L213.4,262.0 L213.4,259.6 L213.8,259.6 L214.3,259.6 L214.3,257.3 L214.7,257.3 L215.2,257.3 L215.2,264.4 L215.6,264.4 L215.6,271.5 L216.1,271.5 L216.1,269.1 L216.5,269.1 L216.5,271.5 L217.0,271.5 L217.5,271.5 L217.5,269.1 L217.9,269.1 L217.9,271.5 L218.4,271.5 L218.4,273.9 L218.8,273.9 L218.8,276.2 L219.3,276.2 L219.3,285.7 L219.7,285.7 L219.7,281.0 L220.2,281.0 L220.2,285.7 L220.6,285.7 L220.6,288.1 L221.1,288.1 L221.5,288.1 L221.5,292.8 L222.0,292.8 L222.0,297.6 L222.5,297.6 L222.9,297.6 L222.9,299.9 L223.4,299.9 L223.4,304.7 L223.9,304.7 L223.9,299.9 L224.4,299.9 L224.4,307.0 L224.9,307.0 L224.9,314.2 L225.3,314.2 L225.3,316.5 L225.8,316.5 L225.8,318.9 L226.3,318.9 L226.3,311.8 L226.8,311.8 L226.8,309.4 L227.2,309.4 L227.2,307.0 L227.7,307.0 L227.7,304.7 L228.2,304.7 L228.2,307.0 L228.7,307.0 L228.7,304.7 L229.1,304.7 L229.6,304.7 L229.6,297.6 L230.1,297.6 L230.1,299.9 L230.6,299.9 L231.0,299.9 L231.0,297.6 L231.5,297.6 L232.0,297.6 L232.0,302.3 L232.5,302.3 L232.5,297.6 L232.9,297.6 L232.9,295.2 L233.4,295.2 L233.9,295.2 L233.9,299.9 L234.3,299.9 L234.3,304.7 L234.8,304.7 L235.3,304.7 L235.3,299.9 L235.8,299.9 L235.8,297.6 L236.2,297.6 L236.2,302.3 L236.7,302.3 L236.7,297.6 L237.2,297.6 L237.2,302.3 L237.6,302.3 L237.6,304.7 L238.1,304.7 L238.1,302.3 L238.6,302.3 L239.0,302.3 L239.5,302.3 L239.5,304.7 L240.0,304.7 L240.0,299.9 L240.5,299.9 L240.5,302.3 L241.0,302.3 L241.0,297.6 L241.5,297.6 L241.5,295.2 L241.9,295.2 L242.4,295.2 L242.9,295.2 L242.9,290.5 L243.4,290.5 L243.4,288.1 L243.9,288.1 L244.4,288.1 L244.4,292.8 L244.9,292.8 L244.9,297.6 L245.3,297.6 L245.8,297.6 L245.8,299.9 L246.2,299.9 L246.2,297.6 L246.7,297.6 L247.1,297.6 L247.6,297.6 L247.6,295.2 L248.0,295.2 L248.5,295.2 L248.5,297.6 L248.9,297.6 L248.9,299.9 L249.4,299.9 L249.4,297.6 L249.9,297.6 L249.9,302.3 L250.3,302.3 L250.8,302.3 L250.8,307.0 L251.2,307.0 L251.2,309.4 L251.7,309.4 L252.1,309.4 L252.6,309.4 L252.6,311.8 L253.0,311.8 L253.5,311.8 L253.9,311.8 L253.9,316.5 L254.4,316.5 L254.4,318.9 L254.9,318.9 L254.9,321.3 L255.3,321.3 L255.3,316.5 L255.8,316.5 L256.3,316.5 L256.3,318.9 L256.8,318.9 L257.2,318.9 L257.7,318.9 L258.2,318.9 L258.2,323.6 L258.7,323.6 L259.1,323.6 L259.1,321.3 L259.6,321.3 L259.6,328.4 L260.1,328.4 L260.1,330.8 L260.6,330.8 L260.6,328.4 L261.1,328.4 L261.1,330.8 L261.5,330.8 L261.5,328.4 L262.0,328.4 L262.0,330.8 L262.5,330.8 L262.9,330.8 L262.9,328.4 L263.4,328.4 L263.9,328.4 L264.3,328.4 L264.8,328.4 L264.8,330.8 L265.3,330.8 L265.7,330.8 L266.2,330.8 L266.2,321.3 L266.7,321.3 L266.7,326.0 L267.1,326.0 L267.1,323.6 L267.6,323.6 L267.6,328.4 L268.1,328.4 L268.1,333.1 L268.5,333.1 L268.5,335.5 L269.0,335.5 L269.0,333.1 L269.5,333.1 L269.9,333.1 L270.4,333.1 L270.8,333.1 L271.3,333.1 L271.7,333.1 L271.7,337.9 L272.2,337.9 L272.6,337.9 L272.6,340.2 L273.1,340.2 L273.1,337.9 L273.5,337.9 L274.0,337.9 L274.5,337.9 L274.5,340.2 L274.9,340.2 L274.9,342.6 L275.4,342.6 L275.4,340.2 L275.8,340.2 L275.8,337.9 L276.3,337.9 L276.7,337.9 L276.7,342.6 L277.2,342.6 L277.6,342.6 L277.6,340.2 L278.1,340.2 L278.1,345.0 L278.5,345.0 L278.5,347.3 L279.0,347.3 L279.0,345.0 L279.4,345.0 L279.4,342.6 L279.9,342.6 L279.9,347.3 L280.4,347.3 L280.4,345.0 L280.8,345.0 L281.2,345.0 L281.2,342.6 L281.7,342.6 L281.7,337.9 L282.1,337.9 L282.1,335.5 L282.6,335.5 L282.6,337.9 L283.1,337.9 L283.5,337.9 L283.9,337.9 L283.9,335.5 L284.4,335.5 L284.4,333.1 L284.9,333.1 L285.3,333.1 L285.3,330.8 L285.8,330.8 L285.8,335.5 L286.2,335.5 L286.2,337.9 L286.6,337.9 L286.6,345.0 L287.1,345.0 L287.1,342.6 L287.6,342.6 L287.6,337.9 L288.0,337.9 L288.0,333.1 L288.5,333.1 L288.5,326.0 L288.9,326.0 L288.9,330.8 L289.4,330.8 L289.4,333.1 L289.9,333.1 L289.9,340.2 L290.3,340.2 L290.3,342.6 L290.8,342.6 L291.3,342.6 L291.3,345.0 L291.7,345.0 L292.2,345.0 L292.2,349.7 L292.7,349.7 L292.7,345.0 L293.1,345.0 L293.6,345.0 L293.6,342.6 L294.1,342.6 L294.1,349.7 L294.5,349.7 L294.5,354.4 L295.0,354.4 L295.5,354.4 L295.5,349.7 L295.9,349.7 L296.4,349.7 L296.9,349.7 L297.4,349.7 L297.4,347.3 L297.8,347.3 L297.8,349.7 L298.3,349.7 L298.3,347.3 L298.8,347.3 L298.8,349.7 L299.2,349.7 L299.7,349.7 L299.7,347.3 L300.2,347.3 L300.6,347.3 L300.6,345.0 L301.1,345.0 L301.1,347.3 L301.6,347.3 L301.6,345.0 L302.1,345.0 L302.1,347.3 L302.5,347.3 L302.5,345.0 L303.0,345.0 L303.0,340.2 L303.5,340.2 L303.5,347.3 L303.9,347.3 L303.9,345.0 L304.4,345.0 L304.4,349.7 L304.9,349.7 L304.9,352.1 L305.3,352.1 L305.3,349.7 L305.8,349.7 L306.3,349.7 L306.3,352.1 L306.7,352.1 L306.7,354.4 L307.2,354.4 L307.7,354.4 L307.7,361.6 L308.1,361.6 L308.6,361.6 L308.6,366.3 L309.1,366.3 L309.5,366.3 L309.5,368.7 L310.0,368.7 L310.5,368.7 L310.9,368.7 L310.9,371.0 L311.4,371.0 L311.4,368.7 L311.9,368.7 L312.4,368.7 L312.4,366.3 L312.8,366.3 L313.3,366.3 L313.3,368.7 L313.8,368.7 L313.8,366.3 L314.2,366.3 L314.2,363.9 L314.7,363.9 L314.7,366.3 L315.2,366.3 L315.2,373.4 L315.6,373.4 L315.6,368.7 L316.1,368.7 L316.6,368.7 L317.1,368.7 L317.1,359.2 L317.5,359.2 L317.5,361.6 L318.0,361.6 L318.5,361.6 L318.5,368.7 L318.9,368.7 L319.4,368.7 L319.4,366.3 L319.9,366.3 L319.9,368.7 L320.3,368.7 L320.3,371.0 L320.8,371.0 L321.3,371.0 L321.3,373.4 L321.7,373.4 L321.7,371.0 L322.2,371.0 L322.2,373.4 L322.7,373.4 L322.7,378.1 L323.1,378.1 L323.1,385.3 L323.6,385.3 L324.1,385.3 L324.5,385.3 L324.5,387.6 L325.0,387.6 L325.0,390.0 L325.5,390.0 L325.5,392.4 L325.9,392.4 L325.9,394.7 L326.4,394.7 L326.4,392.4 L326.8,392.4 L327.3,392.4 L327.8,392.4 L327.8,394.7 L328.2,394.7 L328.7,394.7 L328.7,392.4 L329.2,392.4 L329.2,390.0 L329.6,390.0 L329.6,392.4 L330.1,392.4 L330.1,390.0 L330.5,390.0 L330.5,394.7 L331.0,394.7 L331.0,397.1 L331.5,397.1 L331.9,397.1 L331.9,404.2 L332.4,404.2 L332.4,409.0 L332.8,409.0 L332.8,411.3 L333.3,411.3 L333.3,416.1 L333.7,416.1 L333.7,420.8 L334.2,420.8 L334.2,416.1 L334.6,416.1 L334.6,420.8 L335.1,420.8 L335.1,423.2 L335.5,423.2 L335.5,425.5 L336.0,425.5 L336.0,427.9 L336.5,427.9 L336.9,427.9 L337.4,427.9 L337.8,427.9 L337.8,430.3 L338.3,430.3 L338.3,435.0 L338.7,435.0 L338.7,432.7 L339.2,432.7 L339.2,435.0 L339.6,435.0 L339.6,442.1 L340.1,442.1 L340.1,444.5 L340.5,444.5 L340.5,446.9 L341.0,446.9 L341.0,444.5 L341.5,444.5 L341.5,446.9 L341.9,446.9 L341.9,449.2 L342.4,449.2 L342.4,454.0 L342.8,454.0 L343.3,454.0 L343.3,461.1 L343.8,461.1 L344.2,461.1 L344.2,463.5 L344.7,463.5 L344.7,465.8 L345.2,465.8 L345.2,468.2 L345.6,468.2 L346.1,468.2 L346.1,472.9 L346.5,472.9 L346.5,475.3 L347.0,475.3 L347.0,477.7 L347.5,477.7 L347.9,477.7 L347.9,482.4 L348.4,482.4 L348.4,487.2 L348.8,487.2 L348.8,491.9 L349.3,491.9 L349.7,491.9 L349.7,496.6 L350.2,496.6 L350.6,496.6 L350.6,503.8 L351.1,503.8 L351.5,503.8 L351.5,499.0 L352.0,499.0 L352.0,508.5 L352.5,508.5 L352.5,510.9 L352.9,510.9 L352.9,513.2 L353.4,513.2 L353.4,518.0 L353.9,518.0 L353.9,520.4 L354.4,520.4 L354.4,529.8 L354.9,529.8 L354.9,534.6 L355.3,534.6 L355.3,532.2 L355.8,532.2 L355.8,539.3 L356.3,539.3 L356.7,539.3 L356.7,544.0 L357.2,544.0 L357.2,539.3 L357.6,539.3 L357.6,534.6 L358.1,534.6 L358.1,539.3 L358.5,539.3 L359.0,539.3 L359.4,539.3 L359.4,534.6 L359.9,534.6 L359.9,539.3 L360.3,539.3 L360.3,546.4 L360.8,546.4 L360.8,541.7 L361.3,541.7 L361.7,541.7 L361.7,536.9 L362.2,536.9 L362.2,541.7 L362.6,541.7 L362.6,536.9 L363.1,536.9 L363.1,532.2 L363.6,532.2 L364.0,532.2 L364.0,529.8 L364.5,529.8 L364.5,522.7 L365.0,522.7 L365.0,525.1 L365.4,525.1 L365.4,522.7 L365.9,522.7 L365.9,520.4 L366.3,520.4 L366.3,527.5 L366.8,527.5 L367.2,527.5 L367.2,525.1 L367.7,525.1 L367.7,527.5 L368.1,527.5 L368.1,522.7 L368.6,522.7 L369.0,522.7 L369.0,525.1 L369.5,525.1 L370.0,525.1 L370.0,527.5 L370.4,527.5 L370.4,532.2 L370.9,532.2 L370.9,529.8 L371.3,529.8 L371.3,532.2 L371.8,532.2 L371.8,534.6 L372.2,534.6 L372.2,529.8 L372.7,529.8 L372.7,532.2 L373.1,532.2 L373.6,532.2 L373.6,534.6 L374.0,534.6 L374.0,536.9 L374.5,536.9 L375.0,536.9 L375.0,534.6 L375.4,534.6 L375.4,536.9 L375.9,536.9 L375.9,534.6 L376.3,534.6 L376.3,539.3 L376.8,539.3 L377.2,539.3 L377.2,536.9 L377.7,536.9 L377.7,541.7 L378.1,541.7 L378.1,544.0 L378.6,544.0 L378.6,541.7 L379.0,541.7 L379.0,546.4 L379.5,546.4 L379.5,544.0 L380.0,544.0 L380.0,546.4 L380.5,546.4 L380.5,551.2 L381.0,555.5 L806.5,555.5 L806.5,555.5" fill="none" stroke="#0f2036" stroke-opacity="0.205" stroke-width="3.5" stroke-linejoin="round" stroke-linecap="square"/>
<path d="M124.0,86.0 L124.5,86.0 L125.0,86.0 L125.0,86.6 L125.5,86.6 L125.5,91.4 L125.9,91.4 L125.9,93.7 L126.4,93.7 L126.4,91.4 L126.9,91.4 L126.9,93.7 L127.4,93.7 L127.4,91.4 L127.9,91.4 L128.4,91.4 L128.4,93.7 L128.8,93.7 L129.3,93.7 L129.3,98.5 L129.8,98.5 L129.8,96.1 L130.3,96.1 L130.3,91.4 L130.8,91.4 L130.8,96.1 L131.3,96.1 L131.3,93.7 L131.7,93.7 L132.2,93.7 L132.2,86.6 L132.7,86.6 L132.7,93.7 L133.2,93.7 L133.2,96.1 L133.7,96.1 L134.2,96.1 L134.2,98.5 L134.6,98.5 L134.6,100.9 L135.1,100.9 L135.1,96.1 L135.6,96.1 L136.1,96.1 L136.1,93.7 L136.6,93.7 L136.6,91.4 L137.1,91.4 L137.1,93.7 L137.5,93.7 L138.0,93.7 L138.0,91.4 L138.5,91.4 L138.5,93.7 L139.0,93.7 L139.5,93.7 L139.5,91.4 L140.0,91.4 L140.0,96.1 L140.4,96.1 L140.4,93.7 L140.9,93.7 L140.9,91.4 L141.4,91.4 L141.9,91.4 L141.9,98.5 L142.3,98.5 L142.3,93.7 L142.8,93.7 L142.8,96.1 L143.2,96.1 L143.7,96.1 L143.7,98.5 L144.1,98.5 L144.1,93.7 L144.6,93.7 L145.0,93.7 L145.5,93.7 L145.5,96.1 L145.9,96.1 L145.9,93.7 L146.4,93.7 L146.4,89.0 L146.8,89.0 L146.8,96.1 L147.3,96.1 L147.3,98.5 L147.7,98.5 L147.7,100.9 L148.2,100.9 L148.2,98.5 L148.6,98.5 L148.6,100.9 L149.1,100.9 L149.1,103.2 L149.5,103.2 L149.5,105.6 L150.0,105.6 L150.0,103.2 L150.4,103.2 L150.4,105.6 L150.9,105.6 L151.3,105.6 L151.8,105.6 L151.8,108.0 L152.3,108.0 L152.7,108.0 L152.7,110.3 L153.2,110.3 L153.2,112.7 L153.7,112.7 L153.7,108.0 L154.2,108.0 L154.2,110.3 L154.6,110.3 L154.6,115.1 L155.1,115.1 L155.6,115.1 L155.6,119.8 L156.0,119.8 L156.0,115.1 L156.5,115.1 L156.5,112.7 L157.0,112.7 L157.0,117.4 L157.5,117.4 L157.5,119.8 L157.9,119.8 L157.9,124.6 L158.4,124.6 L158.9,124.6 L158.9,119.8 L159.4,119.8 L159.4,122.2 L159.8,122.2 L159.8,119.8 L160.3,119.8 L160.3,117.4 L160.8,117.4 L160.8,126.9 L161.2,126.9 L161.2,124.6 L161.7,124.6 L161.7,126.9 L162.2,126.9 L162.7,126.9 L162.7,131.7 L163.1,131.7 L163.1,129.3 L163.6,129.3 L163.6,131.7 L164.1,131.7 L164.1,129.3 L164.6,129.3 L164.6,126.9 L165.0,126.9 L165.0,131.7 L165.5,131.7 L165.5,136.4 L166.0,136.4 L166.0,138.8 L166.5,138.8 L166.9,138.8 L166.9,136.4 L167.4,136.4 L167.4,134.0 L167.9,134.0 L167.9,136.4 L168.4,136.4 L168.8,136.4 L169.3,136.4 L169.3,134.0 L169.8,134.0 L169.8,136.4 L170.3,136.4 L170.3,134.0 L170.7,134.0 L171.2,134.0 L171.2,131.7 L171.7,131.7 L171.7,134.0 L172.2,134.0 L172.2,141.1 L172.6,141.1 L172.6,138.8 L173.1,138.8 L173.6,138.8 L173.6,143.5 L174.1,143.5 L174.1,145.9 L174.5,145.9 L174.5,148.3 L175.0,148.3 L175.0,143.5 L175.5,143.5 L175.5,145.9 L176.0,145.9 L176.0,143.5 L176.4,143.5 L176.9,143.5 L176.9,145.9 L177.4,145.9 L177.9,145.9 L177.9,150.6 L178.3,150.6 L178.3,157.7 L178.8,157.7 L178.8,155.4 L179.3,155.4 L179.7,155.4 L179.7,153.0 L180.2,153.0 L180.6,153.0 L181.1,153.0 L181.1,155.4 L181.6,155.4 L181.6,157.7 L182.0,157.7 L182.0,160.1 L182.5,160.1 L182.5,162.5 L182.9,162.5 L182.9,164.8 L183.4,164.8 L183.8,164.8 L183.8,162.5 L184.3,162.5 L184.3,167.2 L184.7,167.2 L185.2,167.2 L185.2,169.6 L185.6,169.6 L185.6,172.0 L186.1,172.0 L186.1,167.2 L186.5,167.2 L186.5,169.6 L187.0,169.6 L187.0,162.5 L187.4,162.5 L187.4,169.6 L187.9,169.6 L187.9,172.0 L188.5,172.0 L188.5,167.2 L189.0,167.2 L189.0,164.8 L189.5,164.8 L189.5,167.2 L190.0,167.2 L190.0,162.5 L190.5,162.5 L191.0,162.5 L191.0,167.2 L191.5,167.2 L192.0,167.2 L192.5,167.2 L192.5,172.0 L193.0,172.0 L193.0,169.6 L193.5,169.6 L193.5,172.0 L194.0,172.0 L194.5,172.0 L194.5,169.6 L195.0,169.6 L195.0,174.3 L195.5,174.3 L195.5,172.0 L196.0,172.0 L196.0,181.4 L196.5,181.4 L196.5,179.1 L197.0,179.1 L197.0,186.2 L197.5,186.2 L197.5,183.8 L198.0,183.8 L198.0,186.2 L198.5,186.2 L198.5,183.8 L199.0,183.8 L199.5,183.8 L199.5,188.5 L200.0,188.5 L200.0,193.3 L200.5,193.3 L200.9,193.3 L200.9,200.4 L201.4,200.4 L201.9,200.4 L201.9,202.8 L202.3,202.8 L202.3,207.5 L202.8,207.5 L202.8,212.2 L203.3,212.2 L203.3,207.5 L203.8,207.5 L203.8,217.0 L204.2,217.0 L204.2,219.4 L204.7,219.4 L205.2,219.4 L205.2,217.0 L205.6,217.0 L206.1,217.0 L206.6,217.0 L206.6,224.1 L207.0,224.1 L207.0,226.5 L207.5,226.5 L207.5,224.1 L208.0,224.1 L208.0,226.5 L208.4,226.5 L208.4,235.9 L208.9,235.9 L209.4,235.9 L209.8,235.9 L209.8,240.7 L210.3,240.7 L210.3,243.1 L210.8,243.1 L211.3,243.1 L211.8,243.1 L211.8,240.7 L212.3,240.7 L212.8,240.7 L212.8,243.1 L213.3,243.1 L213.3,247.8 L213.8,247.8 L213.8,250.2 L214.3,250.2 L214.3,252.5 L214.8,252.5 L215.3,252.5 L215.3,254.9 L215.8,254.9 L215.8,252.5 L216.3,252.5 L216.3,247.8 L216.8,247.8 L216.8,250.2 L217.3,250.2 L217.8,250.2 L217.8,252.5 L218.3,252.5 L218.3,254.9 L218.8,254.9 L218.8,252.5 L219.3,252.5 L219.8,252.5 L219.8,254.9 L220.3,254.9 L220.3,257.3 L220.8,257.3 L221.3,257.3 L221.3,259.6 L221.8,259.6 L222.3,259.6 L222.8,259.6 L222.8,262.0 L223.3,262.0 L223.3,266.8 L223.9,266.8 L223.9,264.4 L224.4,264.4 L224.4,269.1 L224.8,269.1 L225.3,269.1 L225.3,271.5 L225.8,271.5 L225.8,264.4 L226.3,264.4 L226.3,269.1 L226.8,269.1 L226.8,264.4 L227.3,264.4 L227.3,262.0 L227.8,262.0 L227.8,259.6 L228.3,259.6 L228.3,262.0 L228.8,262.0 L229.3,262.0 L229.3,264.4 L229.8,264.4 L229.8,269.1 L230.3,269.1 L230.3,266.8 L230.8,266.8 L230.8,264.4 L231.3,264.4 L231.3,269.1 L231.8,269.1 L231.8,273.9 L232.3,273.9 L232.3,276.2 L232.8,276.2 L232.8,273.9 L233.3,273.9 L233.3,278.6 L233.8,278.6 L233.8,281.0 L234.3,281.0 L234.3,285.7 L234.8,285.7 L234.8,281.0 L235.3,281.0 L235.3,283.3 L235.8,283.3 L236.3,283.3 L236.3,281.0 L236.8,281.0 L236.8,278.6 L237.3,278.6 L237.3,281.0 L237.8,281.0 L237.8,278.6 L238.3,278.6 L238.3,273.9 L238.8,273.9 L238.8,276.2 L239.3,276.2 L239.8,276.2 L239.8,273.9 L240.3,273.9 L240.3,269.1 L240.8,269.1 L241.3,269.1 L241.3,273.9 L241.8,273.9 L242.3,273.9 L242.3,271.5 L242.8,271.5 L242.8,276.2 L243.2,276.2 L243.2,283.3 L243.7,283.3 L243.7,278.6 L244.2,278.6 L244.2,273.9 L244.7,273.9 L245.2,273.9 L245.2,276.2 L245.7,276.2 L245.7,281.0 L246.2,281.0 L246.2,285.7 L246.7,285.7 L247.2,285.7 L247.7,285.7 L247.7,288.1 L248.2,288.1 L248.7,288.1 L248.7,285.7 L249.2,285.7 L249.2,283.3 L249.7,283.3 L249.7,288.1 L250.2,288.1 L250.2,285.7 L250.7,285.7 L250.7,278.6 L251.2,278.6 L251.2,273.9 L251.7,273.9 L251.7,271.5 L252.2,271.5 L252.2,269.1 L252.7,269.1 L252.7,271.5 L253.2,271.5 L253.2,273.9 L253.7,273.9 L253.7,278.6 L254.2,278.6 L254.7,278.6 L255.2,278.6 L255.7,278.6 L255.7,276.2 L256.2,276.2 L256.2,278.6 L256.7,278.6 L256.7,281.0 L257.2,281.0 L257.2,283.3 L257.7,283.3 L257.7,281.0 L258.2,281.0 L258.2,283.3 L258.7,283.3 L259.2,283.3 L259.2,285.7 L259.7,285.7 L259.7,281.0 L260.2,281.0 L260.2,283.3 L260.7,283.3 L260.7,290.5 L261.2,290.5 L261.2,297.6 L261.7,297.6 L261.7,299.9 L262.2,299.9 L262.2,302.3 L262.7,302.3 L262.7,299.9 L263.2,299.9 L263.2,297.6 L263.7,297.6 L263.7,295.2 L264.2,295.2 L264.2,297.6 L264.7,297.6 L265.2,297.6 L265.2,295.2 L265.7,295.2 L265.7,292.8 L266.2,292.8 L266.2,297.6 L266.7,297.6 L266.7,299.9 L267.2,299.9 L267.7,299.9 L267.7,307.0 L268.2,307.0 L268.2,309.4 L268.7,309.4 L269.2,309.4 L269.2,316.5 L269.7,316.5 L270.2,316.5 L270.2,314.2 L270.7,314.2 L271.2,314.2 L271.2,311.8 L271.7,311.8 L271.7,309.4 L272.2,309.4 L272.2,307.0 L272.7,307.0 L272.7,311.8 L273.2,311.8 L273.2,309.4 L273.7,309.4 L273.7,311.8 L274.2,311.8 L274.7,311.8 L274.7,309.4 L275.2,309.4 L275.2,311.8 L275.7,311.8 L275.7,314.2 L276.2,314.2 L276.2,316.5 L276.7,316.5 L276.7,321.3 L277.2,321.3 L277.6,321.3 L277.6,323.6 L278.1,323.6 L278.1,318.9 L278.6,318.9 L278.6,323.6 L279.0,323.6 L279.5,323.6 L279.5,321.3 L279.9,321.3 L279.9,323.6 L280.4,323.6 L280.9,323.6 L280.9,326.0 L281.3,326.0 L281.3,328.4 L281.8,328.4 L281.8,326.0 L282.2,326.0 L282.7,326.0 L282.7,330.8 L283.2,330.8 L283.2,326.0 L283.6,326.0 L283.6,328.4 L284.1,328.4 L284.1,335.5 L284.5,335.5 L284.5,328.4 L285.0,328.4 L285.0,330.8 L285.5,330.8 L285.5,333.1 L285.9,333.1 L285.9,330.8 L286.4,330.8 L286.4,340.2 L286.9,340.2 L286.9,330.8 L287.4,330.8 L287.4,337.9 L287.8,337.9 L287.8,340.2 L288.3,340.2 L288.8,340.2 L288.8,337.9 L289.2,337.9 L289.7,337.9 L289.7,335.5 L290.2,335.5 L290.2,337.9 L290.6,337.9 L290.6,335.5 L291.1,335.5 L291.6,335.5 L291.6,337.9 L292.1,337.9 L292.1,335.5 L292.5,335.5 L293.0,335.5 L293.0,337.9 L293.5,337.9 L293.5,335.5 L293.9,335.5 L293.9,340.2 L294.4,340.2 L294.4,342.6 L294.9,342.6 L294.9,337.9 L295.3,337.9 L295.3,340.2 L295.8,340.2 L296.3,340.2 L296.7,340.2 L296.7,345.0 L297.2,345.0 L297.2,342.6 L297.7,342.6 L297.7,347.3 L298.1,347.3 L298.6,347.3 L298.6,352.1 L299.1,352.1 L299.5,352.1 L299.5,354.4 L300.0,354.4 L300.0,352.1 L300.5,352.1 L300.5,349.7 L300.9,349.7 L300.9,347.3 L301.4,347.3 L301.4,349.7 L301.9,349.7 L301.9,352.1 L302.4,352.1 L302.4,356.8 L302.8,356.8 L303.3,356.8 L303.3,354.4 L303.8,354.4 L303.8,349.7 L304.2,349.7 L304.7,349.7 L305.2,349.7 L305.2,352.1 L305.6,352.1 L306.1,352.1 L306.1,347.3 L306.6,347.3 L306.6,345.0 L307.1,345.0 L307.1,349.7 L307.5,349.7 L307.5,347.3 L308.0,347.3 L308.0,345.0 L308.5,345.0 L308.5,349.7 L308.9,349.7 L309.4,349.7 L309.9,349.7 L310.4,349.7 L310.4,347.3 L310.8,347.3 L310.8,352.1 L311.3,352.1 L311.8,352.1 L311.8,354.4 L312.2,354.4 L312.7,354.4 L312.7,359.2 L313.2,359.2 L313.2,361.6 L313.6,361.6 L314.1,361.6 L314.1,359.2 L314.6,359.2 L314.6,363.9 L315.1,363.9 L315.1,361.6 L315.5,361.6 L315.5,366.3 L316.0,366.3 L316.0,368.7 L316.5,368.7 L316.9,368.7 L316.9,373.4 L317.4,373.4 L317.9,373.4 L317.9,371.0 L318.4,371.0 L318.4,368.7 L318.8,368.7 L318.8,366.3 L319.3,366.3 L319.3,368.7 L319.8,368.7 L320.2,368.7 L320.2,363.9 L320.7,363.9 L320.7,366.3 L321.2,366.3 L321.6,366.3 L322.1,366.3 L322.6,366.3 L322.6,361.6 L323.1,361.6 L323.1,356.8 L323.5,356.8 L323.5,363.9 L324.0,363.9 L324.0,361.6 L324.4,361.6 L324.4,359.2 L324.9,359.2 L324.9,361.6 L325.4,361.6 L325.8,361.6 L325.8,359.2 L326.2,359.2 L326.2,356.8 L326.7,356.8 L326.7,359.2 L327.1,359.2 L327.1,363.9 L327.6,363.9 L327.6,368.7 L328.1,368.7 L328.5,368.7 L328.5,371.0 L328.9,371.0 L328.9,375.8 L329.4,375.8 L329.4,371.0 L329.9,371.0 L329.9,373.4 L330.3,373.4 L330.8,373.4 L331.2,373.4 L331.2,375.8 L331.6,375.8 L331.6,378.1 L332.1,378.1 L332.1,380.5 L332.6,380.5 L332.6,378.1 L333.0,378.1 L333.0,380.5 L333.5,380.5 L333.5,387.6 L333.9,387.6 L333.9,382.9 L334.4,382.9 L334.4,378.1 L334.9,378.1 L334.9,380.5 L335.3,380.5 L335.3,382.9 L335.8,382.9 L335.8,385.3 L336.3,385.3 L336.3,380.5 L336.7,380.5 L336.7,382.9 L337.2,382.9 L337.2,380.5 L337.7,380.5 L337.7,378.1 L338.1,378.1 L338.6,378.1 L339.1,378.1 L339.1,380.5 L339.5,380.5 L339.5,382.9 L340.0,382.9 L340.0,380.5 L340.5,380.5 L340.5,382.9 L340.9,382.9 L341.4,382.9 L341.4,385.3 L341.8,385.3 L341.8,380.5 L342.3,380.5 L342.3,378.1 L342.7,378.1 L342.7,382.9 L343.2,382.9 L343.2,380.5 L343.6,380.5 L343.6,382.9 L344.1,382.9 L344.1,385.3 L344.5,385.3 L345.0,385.3 L345.5,385.3 L345.5,390.0 L345.9,390.0 L345.9,382.9 L346.4,382.9 L346.4,390.0 L346.8,390.0 L346.8,394.7 L347.3,394.7 L347.7,394.7 L347.7,392.4 L348.2,392.4 L348.2,394.7 L348.6,394.7 L348.6,399.5 L349.1,399.5 L349.1,394.7 L349.5,394.7 L350.0,394.7 L350.5,394.7 L350.9,394.7 L351.4,394.7 L351.4,397.1 L351.9,397.1 L351.9,392.4 L352.4,392.4 L352.8,392.4 L352.8,390.0 L353.3,390.0 L353.8,390.0 L354.2,390.0 L354.7,390.0 L354.7,387.6 L355.2,387.6 L355.2,392.4 L355.6,392.4 L355.6,390.0 L356.1,390.0 L356.1,387.6 L356.6,387.6 L356.6,390.0 L357.1,390.0 L357.1,387.6 L357.5,387.6 L357.5,390.0 L358.0,390.0 L358.0,387.6 L358.4,387.6 L358.4,390.0 L358.9,390.0 L359.4,390.0 L359.4,387.6 L359.8,387.6 L359.8,390.0 L360.2,390.0 L360.2,397.1 L360.7,397.1 L360.7,387.6 L361.1,387.6 L361.1,390.0 L361.6,390.0 L361.6,392.4 L362.1,392.4 L362.1,390.0 L362.5,390.0 L362.9,390.0 L362.9,397.1 L363.4,397.1 L363.4,394.7 L363.9,394.7 L363.9,401.8 L364.3,401.8 L364.8,401.8 L364.8,399.5 L365.2,399.5 L365.6,399.5 L365.6,401.8 L366.1,401.8 L366.1,404.2 L366.6,404.2 L367.0,404.2 L367.0,401.8 L367.5,401.8 L367.9,401.8 L367.9,406.6 L368.4,406.6 L368.9,406.6 L368.9,404.2 L369.3,404.2 L369.3,401.8 L369.8,401.8 L369.8,406.6 L370.3,406.6 L370.3,404.2 L370.8,404.2 L370.8,406.6 L371.2,406.6 L371.2,404.2 L371.7,404.2 L371.7,406.6 L372.2,406.6 L372.2,409.0 L372.6,409.0 L372.6,413.7 L373.1,413.7 L373.6,413.7 L373.6,418.4 L374.0,418.4 L374.0,416.1 L374.5,416.1 L374.5,425.5 L375.0,425.5 L375.4,425.5 L375.4,423.2 L375.9,423.2 L375.9,420.8 L376.4,420.8 L376.4,413.7 L376.8,413.7 L376.8,418.4 L377.3,418.4 L377.3,420.8 L377.8,420.8 L377.8,427.9 L378.2,427.9 L378.2,423.2 L378.7,423.2 L378.7,430.3 L379.2,430.3 L379.7,430.3 L379.7,432.7 L380.1,432.7 L380.1,425.5 L380.6,425.5 L380.6,427.9 L381.1,427.9 L381.1,430.3 L381.5,430.3 L381.5,435.0 L382.0,435.0 L382.5,435.0 L382.9,435.0 L382.9,439.8 L383.4,439.8 L383.4,444.5 L383.8,444.5 L383.8,446.9 L384.3,446.9 L384.3,449.2 L384.7,449.2 L384.7,451.6 L385.2,451.6 L385.6,451.6 L385.6,449.2 L386.1,449.2 L386.5,449.2 L386.5,456.4 L387.0,456.4 L387.0,458.7 L387.5,458.7 L387.5,461.1 L387.9,461.1 L388.4,461.1 L388.4,463.5 L388.8,463.5 L388.8,465.8 L389.3,465.8 L389.7,465.8 L389.7,468.2 L390.2,468.2 L390.2,475.3 L390.6,475.3 L391.1,475.3 L391.5,475.3 L392.0,475.3 L392.5,475.3 L392.5,480.1 L392.9,480.1 L392.9,482.4 L393.4,482.4 L393.9,482.4 L394.3,482.4 L394.8,482.4 L394.8,480.1 L395.2,480.1 L395.2,487.2 L395.7,487.2 L396.2,487.2 L396.2,494.3 L396.6,494.3 L396.6,489.5 L397.1,489.5 L397.5,489.5 L397.5,491.9 L398.0,491.9 L398.0,489.5 L398.5,489.5 L398.5,487.2 L398.9,487.2 L399.4,487.2 L399.4,489.5 L399.9,489.5 L399.9,491.9 L400.3,491.9 L400.8,491.9 L400.8,494.3 L401.2,494.3 L401.7,494.3 L402.1,494.3 L402.1,491.9 L402.6,491.9 L402.6,489.5 L403.1,489.5 L403.1,491.9 L403.5,491.9 L404.0,491.9 L404.0,489.5 L404.4,489.5 L404.9,489.5 L404.9,487.2 L405.3,487.2 L405.3,484.8 L405.8,484.8 L405.8,482.4 L406.3,482.4 L406.3,487.2 L406.7,487.2 L407.2,487.2 L407.2,489.5 L407.6,489.5 L407.6,487.2 L408.1,487.2 L408.1,489.5 L408.5,489.5 L409.0,489.5 L409.5,489.5 L409.5,487.2 L409.9,487.2 L410.4,487.2 L410.4,489.5 L410.8,489.5 L410.8,487.2 L411.3,487.2 L411.3,489.5 L411.8,489.5 L411.8,494.3 L412.2,494.3 L412.2,491.9 L412.7,491.9 L412.7,499.0 L413.1,499.0 L413.1,496.6 L413.6,496.6 L414.0,496.6 L414.5,496.6 L415.0,496.6 L415.0,499.0 L415.4,499.0 L415.4,501.4 L415.9,501.4 L415.9,506.1 L416.3,506.1 L416.8,506.1 L416.8,508.5 L417.3,508.5 L417.3,503.8 L417.8,503.8 L417.8,499.0 L418.3,499.0 L418.8,499.0 L418.8,496.6 L419.2,496.6 L419.2,499.0 L419.7,499.0 L419.7,496.6 L420.2,496.6 L420.2,501.4 L420.7,501.4 L420.7,499.0 L421.2,499.0 L421.7,499.0 L421.7,494.3 L422.2,494.3 L422.2,496.6 L422.6,496.6 L423.1,496.6 L423.1,499.0 L423.5,499.0 L423.5,496.6 L424.0,496.6 L424.0,501.4 L424.4,501.4 L424.4,508.5 L424.9,508.5 L424.9,506.1 L425.3,506.1 L425.3,503.8 L425.8,503.8 L426.2,503.8 L426.2,501.4 L426.7,501.4 L426.7,508.5 L427.2,508.5 L427.2,506.1 L427.6,506.1 L428.1,506.1 L428.1,508.5 L428.5,508.5 L428.5,513.2 L429.0,513.2 L429.0,503.8 L429.4,503.8 L429.9,503.8 L430.4,503.8 L430.4,501.4 L430.8,501.4 L431.3,501.4 L431.3,496.6 L431.7,496.6 L431.7,499.0 L432.2,499.0 L432.6,499.0 L432.6,496.6 L433.1,496.6 L433.5,496.6 L434.0,496.6 L434.0,494.3 L434.5,494.3 L434.5,491.9 L434.9,491.9 L434.9,494.3 L435.4,494.3 L435.8,494.3 L435.8,491.9 L436.3,491.9 L436.3,487.2 L436.7,487.2 L437.2,487.2 L437.2,484.8 L437.6,484.8 L437.6,487.2 L438.1,487.2 L438.5,487.2 L438.5,482.4 L439.0,482.4 L439.0,484.8 L439.5,484.8 L439.5,487.2 L439.9,487.2 L440.4,487.2 L440.4,484.8 L440.8,484.8 L440.8,487.2 L441.3,487.2 L441.3,484.8 L441.7,484.8 L441.7,482.4 L442.2,482.4 L442.2,480.1 L442.6,480.1 L442.6,482.4 L443.1,482.4 L443.1,487.2 L443.5,487.2 L443.5,489.5 L444.0,489.5 L444.0,487.2 L444.5,487.2 L444.5,482.4 L444.9,482.4 L445.4,482.4 L445.8,482.4 L446.3,482.4 L446.3,480.1 L446.7,480.1 L446.7,482.4 L447.2,482.4 L447.2,487.2 L447.6,487.2 L448.1,487.2 L448.5,487.2 L448.5,484.8 L449.0,484.8 L449.0,482.4 L449.5,482.4 L449.9,482.4 L449.9,487.2 L450.4,487.2 L450.4,491.9 L450.8,491.9 L450.8,489.5 L451.3,489.5 L451.3,491.9 L451.7,491.9 L451.7,489.5 L452.2,489.5 L452.2,494.3 L452.6,494.3 L452.6,491.9 L453.1,491.9 L453.1,489.5 L453.5,489.5 L453.5,491.9 L454.0,491.9 L454.0,489.5 L454.5,489.5 L454.5,487.2 L454.9,487.2 L454.9,484.8 L455.4,484.8 L455.4,487.2 L455.9,487.2 L455.9,489.5 L456.3,489.5 L456.8,489.5 L457.3,489.5 L457.3,494.3 L457.8,494.3 L457.8,491.9 L458.2,491.9 L458.7,491.9 L458.7,494.3 L459.2,494.3 L459.2,499.0 L459.6,499.0 L459.6,496.6 L460.1,496.6 L460.1,491.9 L460.6,491.9 L461.0,491.9 L461.0,494.3 L461.5,494.3 L462.0,494.3 L462.0,496.6 L462.4,496.6 L462.4,489.5 L462.9,489.5 L462.9,491.9 L463.4,491.9 L463.4,489.5 L463.8,489.5 L463.8,491.9 L464.3,491.9 L464.3,489.5 L464.8,489.5 L465.2,489.5 L465.2,484.8 L465.7,484.8 L465.7,480.1 L466.2,480.1 L466.2,477.7 L466.7,477.7 L467.1,477.7 L467.1,475.3 L467.6,475.3 L467.6,477.7 L468.1,477.7 L468.1,480.1 L468.5,480.1 L468.5,477.7 L469.0,477.7 L469.0,472.9 L469.5,472.9 L469.9,472.9 L469.9,470.6 L470.4,470.6 L470.4,475.3 L470.9,475.3 L470.9,472.9 L471.3,472.9 L471.8,472.9 L471.8,468.2 L472.3,468.2 L472.3,463.5 L472.8,463.5 L473.2,463.5 L473.2,461.1 L473.7,461.1 L473.7,463.5 L474.2,463.5 L474.6,463.5 L474.6,461.1 L475.1,461.1 L475.6,461.1 L475.6,463.5 L476.0,463.5 L476.0,458.7 L476.5,458.7 L476.5,456.4 L477.0,456.4 L477.4,456.4 L477.4,454.0 L477.9,454.0 L477.9,451.6 L478.3,451.6 L478.3,454.0 L478.8,454.0 L478.8,456.4 L479.3,456.4 L479.3,446.9 L479.7,446.9 L480.2,446.9 L480.6,446.9 L480.6,444.5 L481.1,444.5 L481.1,442.1 L481.6,442.1 L481.6,439.8 L482.0,439.8 L482.0,442.1 L482.5,442.1 L482.5,437.4 L483.0,437.4 L483.0,435.0 L483.4,435.0 L483.9,435.0 L483.9,432.7 L484.3,432.7 L484.3,430.3 L484.8,430.3 L484.8,432.7 L485.3,432.7 L485.8,432.7 L485.8,435.0 L486.2,435.0 L486.7,435.0 L486.7,432.7 L487.2,432.7 L487.2,435.0 L487.7,435.0 L488.2,435.0 L488.2,439.8 L488.6,439.8 L489.1,439.8 L489.6,439.8 L489.6,444.5 L490.1,444.5 L490.1,446.9 L490.6,446.9 L490.6,444.5 L491.0,444.5 L491.0,451.6 L491.5,451.6 L491.5,454.0 L492.0,454.0 L492.5,454.0 L492.5,456.4 L492.9,456.4 L492.9,454.0 L493.4,454.0 L493.4,451.6 L493.8,451.6 L493.8,456.4 L494.3,456.4 L494.3,449.2 L494.8,449.2 L494.8,446.9 L495.2,446.9 L495.2,449.2 L495.7,449.2 L495.7,444.5 L496.1,444.5 L496.6,444.5 L497.1,444.5 L497.1,449.2 L497.5,449.2 L497.5,444.5 L498.0,444.5 L498.0,442.1 L498.4,442.1 L498.9,442.1 L498.9,439.8 L499.4,439.8 L499.4,435.0 L499.8,435.0 L499.8,437.4 L500.3,437.4 L500.7,437.4 L501.2,437.4 L501.7,437.4 L502.1,437.4 L502.1,435.0 L502.6,435.0 L503.0,435.0 L503.0,430.3 L503.5,430.3 L503.5,427.9 L504.0,427.9 L504.0,430.3 L504.4,430.3 L504.9,430.3 L504.9,432.7 L505.4,432.7 L505.4,430.3 L505.9,430.3 L505.9,437.4 L506.3,437.4 L506.3,442.1 L506.8,442.1 L506.8,437.4 L507.3,437.4 L507.3,439.8 L507.8,439.8 L507.8,437.4 L508.2,437.4 L508.2,442.1 L508.7,442.1 L509.2,442.1 L509.6,442.1 L509.6,439.8 L510.1,439.8 L510.1,442.1 L510.6,442.1 L510.6,439.8 L511.1,439.8 L511.1,444.5 L511.5,444.5 L511.5,442.1 L512.0,442.1 L512.0,444.5 L512.5,444.5 L512.9,444.5 L512.9,446.9 L513.4,446.9 L513.8,446.9 L513.8,449.2 L514.3,449.2 L514.3,444.5 L514.7,444.5 L514.7,446.9 L515.2,446.9 L515.2,444.5 L515.6,444.5 L515.6,446.9 L516.1,446.9 L516.5,446.9 L516.5,449.2 L517.0,449.2 L517.0,442.1 L517.5,442.1 L517.5,444.5 L517.9,444.5 L517.9,442.1 L518.4,442.1 L518.4,446.9 L518.8,446.9 L518.8,442.1 L519.3,442.1 L519.7,442.1 L519.7,439.8 L520.2,439.8 L520.2,446.9 L520.6,446.9 L520.6,444.5 L521.1,444.5 L521.5,444.5 L522.0,444.5 L522.0,442.1 L522.5,442.1 L523.0,442.1 L523.0,444.5 L523.4,444.5 L523.9,444.5 L523.9,446.9 L524.4,446.9 L524.4,442.1 L524.9,442.1 L525.3,442.1 L525.3,439.8 L525.8,439.8 L525.8,442.1 L526.3,442.1 L526.3,444.5 L526.8,444.5 L526.8,442.1 L527.2,442.1 L527.7,442.1 L527.7,437.4 L528.2,437.4 L528.2,435.0 L528.6,435.0 L528.6,439.8 L529.1,439.8 L529.1,435.0 L529.6,435.0 L529.6,430.3 L530.1,430.3 L530.6,430.3 L530.6,427.9 L531.1,427.9 L531.1,432.7 L531.5,432.7 L531.5,423.2 L532.0,423.2 L532.5,423.2 L532.5,425.5 L533.0,425.5 L533.0,420.8 L533.5,420.8 L533.5,418.4 L534.0,418.4 L534.5,418.4 L534.5,420.8 L535.0,420.8 L535.0,416.1 L535.5,416.1 L535.5,411.3 L536.0,411.3 L536.0,413.7 L536.5,413.7 L536.5,416.1 L537.0,416.1 L537.0,411.3 L537.5,411.3 L537.5,404.2 L537.9,404.2 L537.9,409.0 L538.4,409.0 L538.4,406.6 L538.8,406.6 L538.8,409.0 L539.3,409.0 L539.3,406.6 L539.8,406.6 L539.8,401.8 L540.2,401.8 L540.7,401.8 L540.7,404.2 L541.2,404.2 L541.6,404.2 L541.6,394.7 L542.1,394.7 L542.1,392.4 L542.5,392.4 L542.5,399.5 L543.0,399.5 L543.0,394.7 L543.5,394.7 L543.5,392.4 L544.0,392.4 L544.0,394.7 L544.4,394.7 L544.9,394.7 L545.4,394.7 L545.9,394.7 L546.4,394.7 L546.8,394.7 L546.8,397.1 L547.3,397.1 L547.3,394.7 L547.8,394.7 L547.8,397.1 L548.3,397.1 L548.7,397.1 L548.7,401.8 L549.2,401.8 L549.7,401.8 L550.2,401.8 L550.2,409.0 L550.6,409.0 L550.6,416.1 L551.1,416.1 L551.1,425.5 L551.5,425.5 L551.5,432.7 L552.0,432.7 L552.0,444.5 L552.5,444.5 L552.5,446.9 L552.9,446.9 L552.9,444.5 L553.4,444.5 L553.8,444.5 L553.8,446.9 L554.3,446.9 L554.3,449.2 L554.7,449.2 L554.7,451.6 L555.2,451.6 L555.2,449.2 L555.6,449.2 L555.6,446.9 L556.1,446.9 L556.1,451.6 L556.5,451.6 L556.5,458.7 L557.0,458.7 L557.0,461.1 L557.5,461.1 L557.5,458.7 L558.0,458.7 L558.0,463.5 L558.4,463.5 L558.9,463.5 L558.9,465.8 L559.4,465.8 L559.4,468.2 L559.9,468.2 L560.3,468.2 L560.8,468.2 L560.8,465.8 L561.3,465.8 L561.3,468.2 L561.8,468.2 L561.8,465.8 L562.2,465.8 L562.2,472.9 L562.7,472.9 L562.7,475.3 L563.2,475.3 L563.2,480.1 L563.6,480.1 L563.6,482.4 L564.1,482.4 L564.6,482.4 L564.6,484.8 L565.1,484.8 L565.1,480.1 L565.6,480.1 L566.1,480.1 L566.1,477.7 L566.6,477.7 L566.6,472.9 L567.0,472.9 L567.5,472.9 L567.5,470.6 L568.0,470.6 L568.0,468.2 L568.5,468.2 L569.0,468.2 L569.0,470.6 L569.5,470.6 L569.5,463.5 L570.0,463.5 L570.0,465.8 L570.5,465.8 L570.5,463.5 L571.0,463.5 L571.0,470.6 L571.5,470.6 L571.5,475.3 L572.0,475.3 L572.0,472.9 L572.5,472.9 L572.5,482.4 L573.0,482.4 L573.0,489.5 L573.5,489.5 L574.0,489.5 L574.0,494.3 L574.5,494.3 L574.5,496.6 L575.0,496.6 L575.0,503.8 L575.5,503.8 L576.0,503.8 L576.0,508.5 L576.5,508.5 L576.5,518.0 L577.0,518.0 L577.0,520.4 L577.5,520.4 L577.5,525.1 L577.9,525.1 L577.9,527.5 L578.4,527.5 L578.8,527.5 L578.8,532.2 L579.2,532.2 L579.2,536.9 L579.7,536.9 L579.7,539.3 L580.1,539.3 L580.1,544.0 L580.6,544.0 L580.6,551.2 L581.1,551.2 L581.1,555.5 L581.5,555.5 L581.5,551.2 L582.0,555.5 L806.5,555.5 L806.5,555.5" fill="none" stroke="#0f2036" stroke-opacity="0.205" stroke-width="3.5" stroke-linejoin="round" stroke-linecap="square"/>
<path d="M124.0,86.0 L124.5,86.0 L125.0,86.0 L125.0,86.6 L125.4,86.6 L125.4,89.0 L125.9,89.0 L126.4,89.0 L126.4,86.6 L126.9,86.6 L126.9,86.0 L127.3,86.0 L127.8,86.0 L127.8,86.6 L128.3,86.6 L128.3,86.0 L128.8,86.0 L129.2,86.0 L129.7,86.0 L130.2,86.0 L130.7,86.0 L131.2,86.0 L131.6,86.0 L132.1,86.0 L132.6,86.0 L133.1,86.0 L133.5,86.0 L134.0,86.0 L134.5,86.0 L135.0,86.0 L135.4,86.0 L135.9,86.0 L135.9,86.6 L136.4,86.6 L136.4,86.0 L136.9,86.0 L137.4,86.0 L137.4,86.6 L137.8,86.6 L137.8,91.4 L138.3,91.4 L138.8,91.4 L138.8,96.1 L139.3,96.1 L139.3,93.7 L139.7,93.7 L140.2,93.7 L140.2,89.0 L140.7,89.0 L140.7,91.4 L141.2,91.4 L141.2,96.1 L141.6,96.1 L142.1,96.1 L142.1,98.5 L142.6,98.5 L143.1,98.5 L143.5,98.5 L143.5,96.1 L144.0,96.1 L144.5,96.1 L144.5,98.5 L145.0,98.5 L145.5,98.5 L145.9,98.5 L146.4,98.5 L146.4,96.1 L146.9,96.1 L146.9,93.7 L147.4,93.7 L147.4,91.4 L147.8,91.4 L147.8,93.7 L148.3,93.7 L148.3,86.6 L148.8,86.6 L149.3,86.6 L149.3,91.4 L149.8,91.4 L149.8,89.0 L150.2,89.0 L150.2,86.0 L150.7,86.0 L151.2,86.0 L151.2,86.6 L151.7,86.6 L152.2,86.6 L152.2,91.4 L152.6,91.4 L153.1,91.4 L153.6,91.4 L153.6,100.9 L154.1,100.9 L154.1,98.5 L154.6,98.5 L155.0,98.5 L155.0,96.1 L155.5,96.1 L156.0,96.1 L156.5,96.1 L156.5,98.5 L157.0,98.5 L157.0,96.1 L157.4,96.1 L157.4,91.4 L157.9,91.4 L157.9,93.7 L158.4,93.7 L158.9,93.7 L159.4,93.7 L159.4,91.4 L159.8,91.4 L159.8,93.7 L160.3,93.7 L160.3,96.1 L160.8,96.1 L160.8,98.5 L161.3,98.5 L161.8,98.5 L161.8,100.9 L162.2,100.9 L162.2,105.6 L162.7,105.6 L162.7,100.9 L163.2,100.9 L163.7,100.9 L164.2,100.9 L164.2,103.2 L164.7,103.2 L164.7,98.5 L165.2,98.5 L165.6,98.5 L165.6,96.1 L166.1,96.1 L166.1,98.5 L166.6,98.5 L166.6,105.6 L167.1,105.6 L167.6,105.6 L167.6,110.3 L168.1,110.3 L168.1,112.7 L168.6,112.7 L168.6,119.8 L169.1,119.8 L169.1,124.6 L169.5,124.6 L169.5,129.3 L170.0,129.3 L170.0,124.6 L170.5,124.6 L170.5,122.2 L171.0,122.2 L171.0,124.6 L171.5,124.6 L172.0,124.6 L172.0,122.2 L172.5,122.2 L173.0,122.2 L173.0,117.4 L173.4,117.4 L173.4,122.2 L173.9,122.2 L173.9,119.8 L174.4,119.8 L174.4,122.2 L174.9,122.2 L174.9,119.8 L175.4,119.8 L175.8,119.8 L175.8,117.4 L176.3,117.4 L176.3,122.2 L176.8,122.2 L176.8,124.6 L177.2,124.6 L177.7,124.6 L177.7,122.2 L178.2,122.2 L178.7,122.2 L178.7,115.1 L179.1,115.1 L179.1,122.2 L179.6,122.2 L179.6,124.6 L180.1,124.6 L180.1,126.9 L180.6,126.9 L181.0,126.9 L181.0,124.6 L181.5,124.6 L181.5,126.9 L182.0,126.9 L182.0,134.0 L182.5,134.0 L182.5,138.8 L182.9,138.8 L182.9,136.4 L183.4,136.4 L183.4,134.0 L183.9,134.0 L183.9,141.1 L184.4,141.1 L184.4,138.8 L184.9,138.8 L184.9,143.5 L185.4,143.5 L185.9,143.5 L185.9,141.1 L186.4,141.1 L186.4,143.5 L186.9,143.5 L186.9,148.3 L187.3,148.3 L187.3,143.5 L187.8,143.5 L187.8,148.3 L188.3,148.3 L188.8,148.3 L188.8,150.6 L189.3,150.6 L189.8,150.6 L189.8,145.9 L190.3,145.9 L190.3,150.6 L190.8,150.6 L190.8,155.4 L191.3,155.4 L191.3,162.5 L191.8,162.5 L191.8,164.8 L192.3,164.8 L192.8,164.8 L193.4,164.8 L193.9,164.8 L194.4,164.8 L194.4,162.5 L194.9,162.5 L194.9,164.8 L195.4,164.8 L195.4,157.7 L195.9,157.7 L195.9,162.5 L196.4,162.5 L196.9,162.5 L196.9,169.6 L197.4,169.6 L197.9,169.6 L197.9,167.2 L198.4,167.2 L198.8,167.2 L198.8,164.8 L199.3,164.8 L199.3,162.5 L199.8,162.5 L199.8,160.1 L200.2,160.1 L200.2,167.2 L200.7,167.2 L200.7,169.6 L201.1,169.6 L201.1,164.8 L201.6,164.8 L201.6,167.2 L202.1,167.2 L202.1,172.0 L202.5,172.0 L202.5,174.3 L203.0,174.3 L203.0,176.7 L203.5,176.7 L203.5,174.3 L203.9,174.3 L204.4,174.3 L204.4,179.1 L204.8,179.1 L204.8,181.4 L205.3,181.4 L205.8,181.4 L205.8,179.1 L206.2,179.1 L206.2,186.2 L206.7,186.2 L206.7,183.8 L207.1,183.8 L207.1,188.5 L207.6,188.5 L208.1,188.5 L208.1,190.9 L208.5,190.9 L208.5,195.7 L209.0,195.7 L209.4,195.7 L209.4,198.0 L209.9,198.0 L209.9,193.3 L210.4,193.3 L210.8,193.3 L210.8,195.7 L211.3,195.7 L211.3,200.4 L211.7,200.4 L211.7,202.8 L212.2,202.8 L212.2,207.5 L212.6,207.5 L212.6,205.1 L213.1,205.1 L213.6,205.1 L213.6,207.5 L214.0,207.5 L214.0,205.1 L214.5,205.1 L214.9,205.1 L214.9,202.8 L215.4,202.8 L215.4,207.5 L215.8,207.5 L215.8,205.1 L216.3,205.1 L216.3,207.5 L216.8,207.5 L216.8,205.1 L217.2,205.1 L217.2,207.5 L217.7,207.5 L217.7,205.1 L218.1,205.1 L218.1,207.5 L218.6,207.5 L218.6,202.8 L219.1,202.8 L219.5,202.8 L219.5,207.5 L220.0,207.5 L220.0,202.8 L220.4,202.8 L220.9,202.8 L221.3,202.8 L221.3,200.4 L221.8,200.4 L221.8,205.1 L222.3,205.1 L222.3,209.9 L222.7,209.9 L223.2,209.9 L223.2,214.6 L223.6,214.6 L224.1,214.6 L224.1,217.0 L224.5,217.0 L224.5,221.7 L225.0,221.7 L225.5,221.7 L225.5,231.2 L226.0,231.2 L226.0,226.5 L226.4,226.5 L226.4,228.8 L226.9,228.8 L226.9,231.2 L227.4,231.2 L227.4,226.5 L227.9,226.5 L227.9,224.1 L228.4,224.1 L228.4,228.8 L228.8,228.8 L228.8,231.2 L229.3,231.2 L229.3,235.9 L229.8,235.9 L229.8,240.7 L230.3,240.7 L230.8,240.7 L231.2,240.7 L231.2,235.9 L231.7,235.9 L231.7,243.1 L232.2,243.1 L232.2,245.4 L232.7,245.4 L232.7,250.2 L233.2,250.2 L233.6,250.2 L233.6,243.1 L234.1,243.1 L234.1,247.8 L234.6,247.8 L234.6,245.4 L235.1,245.4 L235.1,243.1 L235.6,243.1 L235.6,235.9 L236.0,235.9 L236.0,231.2 L236.5,231.2 L236.5,228.8 L237.0,228.8 L237.0,231.2 L237.5,231.2 L237.5,233.6 L238.0,233.6 L238.0,240.7 L238.4,240.7 L238.4,245.4 L238.9,245.4 L238.9,250.2 L239.4,250.2 L239.4,252.5 L239.9,252.5 L239.9,259.6 L240.4,259.6 L240.4,264.4 L240.8,264.4 L240.8,254.9 L241.3,254.9 L241.3,257.3 L241.8,257.3 L242.3,257.3 L242.3,262.0 L242.8,262.0 L242.8,259.6 L243.2,259.6 L243.7,259.6 L243.7,257.3 L244.2,257.3 L244.2,259.6 L244.7,259.6 L245.1,259.6 L245.6,259.6 L246.1,259.6 L246.1,264.4 L246.5,264.4 L247.0,264.4 L247.0,262.0 L247.4,262.0 L247.4,266.8 L247.9,266.8 L248.4,266.8 L248.4,269.1 L248.8,269.1 L248.8,271.5 L249.3,271.5 L249.3,273.9 L249.8,273.9 L250.2,273.9 L250.2,271.5 L250.7,271.5 L250.7,269.1 L251.1,269.1 L251.1,266.8 L251.6,266.8 L251.6,271.5 L252.1,271.5 L252.1,273.9 L252.5,273.9 L252.5,276.2 L253.0,276.2 L253.0,273.9 L253.5,273.9 L253.5,269.1 L253.9,269.1 L253.9,276.2 L254.4,276.2 L254.4,278.6 L254.8,278.6 L255.3,278.6 L255.3,281.0 L255.8,281.0 L255.8,283.3 L256.2,283.3 L256.2,285.7 L256.7,285.7 L256.7,283.3 L257.2,283.3 L257.2,290.5 L257.6,290.5 L258.1,290.5 L258.1,292.8 L258.5,292.8 L258.5,302.3 L259.0,302.3 L259.0,304.7 L259.5,304.7 L259.9,304.7 L259.9,302.3 L260.4,302.3 L260.4,307.0 L260.9,307.0 L260.9,309.4 L261.3,309.4 L261.3,307.0 L261.8,307.0 L261.8,304.7 L262.3,304.7 L262.3,302.3 L262.7,302.3 L262.7,299.9 L263.2,299.9 L263.2,302.3 L263.6,302.3 L263.6,304.7 L264.1,304.7 L264.6,304.7 L264.6,299.9 L265.0,299.9 L265.5,299.9 L266.0,299.9 L266.0,295.2 L266.4,295.2 L266.4,292.8 L266.9,292.8 L266.9,297.6 L267.4,297.6 L267.4,292.8 L267.8,292.8 L268.3,292.8 L268.3,290.5 L268.8,290.5 L268.8,292.8 L269.2,292.8 L269.2,290.5 L269.7,290.5 L269.7,295.2 L270.1,295.2 L270.1,299.9 L270.6,299.9 L270.6,307.0 L271.1,307.0 L271.1,309.4 L271.5,309.4 L271.5,311.8 L272.0,311.8 L272.0,309.4 L272.5,309.4 L272.5,307.0 L272.9,307.0 L273.4,307.0 L273.4,309.4 L273.9,309.4 L273.9,307.0 L274.3,307.0 L274.3,311.8 L274.8,311.8 L274.8,307.0 L275.3,307.0 L275.3,304.7 L275.7,304.7 L276.2,304.7 L276.7,304.7 L277.1,304.7 L277.1,314.2 L277.6,314.2 L278.1,314.2 L278.1,316.5 L278.5,316.5 L278.5,321.3 L279.0,321.3 L279.0,323.6 L279.5,323.6 L279.5,321.3 L279.9,321.3 L279.9,326.0 L280.4,326.0 L280.9,326.0 L281.3,326.0 L281.8,326.0 L281.8,323.6 L282.3,323.6 L282.7,323.6 L282.7,326.0 L283.2,326.0 L283.2,328.4 L283.7,328.4 L284.1,328.4 L284.1,330.8 L284.6,330.8 L284.6,333.1 L285.1,333.1 L285.1,337.9 L285.5,337.9 L286.0,337.9 L286.0,340.2 L286.5,340.2 L286.5,337.9 L286.9,337.9 L286.9,335.5 L287.4,335.5 L287.4,337.9 L287.8,337.9 L288.3,337.9 L288.3,335.5 L288.8,335.5 L288.8,342.6 L289.2,342.6 L289.2,340.2 L289.7,340.2 L289.7,337.9 L290.2,337.9 L290.2,340.2 L290.6,340.2 L290.6,345.0 L291.1,345.0 L291.5,345.0 L291.5,347.3 L292.0,347.3 L292.0,345.0 L292.5,345.0 L292.5,342.6 L292.9,342.6 L293.4,342.6 L293.8,342.6 L293.8,349.7 L294.3,349.7 L294.3,345.0 L294.8,345.0 L294.8,349.7 L295.2,349.7 L295.2,345.0 L295.7,345.0 L295.7,347.3 L296.2,347.3 L296.2,349.7 L296.6,349.7 L297.1,349.7 L297.1,352.1 L297.5,352.1 L297.5,347.3 L298.0,347.3 L298.0,349.7 L298.5,349.7 L298.5,347.3 L299.0,347.3 L299.0,356.8 L299.5,356.8 L300.0,356.8 L300.5,356.8 L300.5,354.4 L301.0,354.4 L301.5,354.4 L302.0,354.4 L302.0,359.2 L302.5,359.2 L302.9,359.2 L302.9,361.6 L303.4,361.6 L303.4,356.8 L303.9,356.8 L304.4,356.8 L304.4,361.6 L304.8,361.6 L304.8,356.8 L305.3,356.8 L305.3,352.1 L305.8,352.1 L305.8,356.8 L306.2,356.8 L306.2,354.4 L306.7,354.4 L307.2,354.4 L307.2,356.8 L307.6,356.8 L307.6,354.4 L308.1,354.4 L308.1,356.8 L308.6,356.8 L308.6,354.4 L309.1,354.4 L309.1,359.2 L309.5,359.2 L309.5,361.6 L310.0,361.6 L310.0,356.8 L310.5,356.8 L310.9,356.8 L311.4,356.8 L311.4,359.2 L311.9,359.2 L311.9,363.9 L312.4,363.9 L312.4,359.2 L312.8,359.2 L312.8,363.9 L313.3,363.9 L313.3,361.6 L313.8,361.6 L313.8,363.9 L314.2,363.9 L314.2,361.6 L314.7,361.6 L314.7,371.0 L315.2,371.0 L315.2,373.4 L315.6,373.4 L316.1,373.4 L316.6,373.4 L316.6,378.1 L317.1,378.1 L317.1,373.4 L317.5,373.4 L317.5,375.8 L318.0,375.8 L318.0,385.3 L318.5,385.3 L318.5,382.9 L318.9,382.9 L319.4,382.9 L319.4,385.3 L319.9,385.3 L319.9,382.9 L320.4,382.9 L320.8,382.9 L320.8,387.6 L321.3,387.6 L321.8,387.6 L321.8,390.0 L322.2,390.0 L322.2,387.6 L322.7,387.6 L322.7,390.0 L323.2,390.0 L323.6,390.0 L323.6,394.7 L324.1,394.7 L324.6,394.7 L325.1,394.7 L325.1,387.6 L325.5,387.6 L325.5,392.4 L326.0,392.4 L326.0,397.1 L326.5,397.1 L326.5,394.7 L326.9,394.7 L326.9,392.4 L327.4,392.4 L327.9,392.4 L327.9,399.5 L328.4,399.5 L328.8,399.5 L328.8,401.8 L329.3,401.8 L329.3,404.2 L329.8,404.2 L329.8,409.0 L330.2,409.0 L330.7,409.0 L330.7,411.3 L331.2,411.3 L331.2,409.0 L331.6,409.0 L331.6,416.1 L332.1,416.1 L332.1,418.4 L332.6,418.4 L333.1,418.4 L333.1,413.7 L333.5,413.7 L333.5,416.1 L334.0,416.1 L334.0,420.8 L334.5,420.8 L334.9,420.8 L334.9,425.5 L335.4,425.5 L335.4,427.9 L335.9,427.9 L336.4,427.9 L336.4,430.3 L336.8,430.3 L336.8,432.7 L337.3,432.7 L337.8,432.7 L338.2,432.7 L338.2,442.1 L338.7,442.1 L338.7,437.4 L339.2,437.4 L339.6,437.4 L339.6,442.1 L340.1,442.1 L340.1,444.5 L340.6,444.5 L340.6,442.1 L341.1,442.1 L341.5,442.1 L341.5,446.9 L342.0,446.9 L342.0,451.6 L342.5,451.6 L342.5,454.0 L342.9,454.0 L342.9,451.6 L343.4,451.6 L343.9,451.6 L343.9,446.9 L344.4,446.9 L344.4,444.5 L344.9,444.5 L344.9,442.1 L345.3,442.1 L345.8,442.1 L345.8,444.5 L346.3,444.5 L346.8,444.5 L346.8,439.8 L347.2,439.8 L347.2,442.1 L347.7,442.1 L347.7,439.8 L348.2,439.8 L348.2,435.0 L348.7,435.0 L349.1,435.0 L349.1,430.3 L349.6,430.3 L349.6,432.7 L350.1,432.7 L350.1,435.0 L350.5,435.0 L351.0,435.0 L351.0,437.4 L351.5,437.4 L351.9,437.4 L352.4,437.4 L352.4,432.7 L352.8,432.7 L352.8,435.0 L353.3,435.0 L353.8,435.0 L354.2,435.0 L354.2,437.4 L354.7,437.4 L354.7,439.8 L355.1,439.8 L355.1,435.0 L355.6,435.0 L356.1,435.0 L356.1,437.4 L356.5,437.4 L356.5,439.8 L357.0,439.8 L357.0,442.1 L357.5,442.1 L357.5,444.5 L357.9,444.5 L357.9,449.2 L358.4,449.2 L358.9,449.2 L358.9,446.9 L359.3,446.9 L359.3,444.5 L359.8,444.5 L360.3,444.5 L360.8,444.5 L360.8,449.2 L361.2,449.2 L361.2,451.6 L361.7,451.6 L362.2,451.6 L362.6,451.6 L362.6,454.0 L363.1,454.0 L363.1,456.4 L363.6,456.4 L364.0,456.4 L364.0,458.7 L364.5,458.7 L364.5,456.4 L365.0,456.4 L365.4,456.4 L365.4,458.7 L365.9,458.7 L365.9,461.1 L366.3,461.1 L366.8,461.1 L367.2,461.1 L367.2,468.2 L367.7,468.2 L367.7,465.8 L368.1,465.8 L368.6,465.8 L368.6,468.2 L369.0,468.2 L369.0,465.8 L369.5,465.8 L369.5,468.2 L370.0,468.2 L370.0,475.3 L370.4,475.3 L370.9,475.3 L371.3,475.3 L371.8,475.3 L372.2,475.3 L372.2,477.7 L372.7,477.7 L372.7,475.3 L373.1,475.3 L373.6,475.3 L374.0,475.3 L374.0,477.7 L374.5,477.7 L374.5,480.1 L375.0,480.1 L375.5,480.1 L375.5,470.6 L375.9,470.6 L375.9,475.3 L376.4,475.3 L376.4,480.1 L376.9,480.1 L377.4,480.1 L377.4,475.3 L377.8,475.3 L377.8,470.6 L378.3,470.6 L378.8,470.6 L378.8,465.8 L379.3,465.8 L379.3,468.2 L379.7,468.2 L379.7,465.8 L380.2,465.8 L380.2,468.2 L380.7,468.2 L381.2,468.2 L381.2,461.1 L381.6,461.1 L382.1,461.1 L382.1,458.7 L382.5,458.7 L382.5,454.0 L383.0,454.0 L383.4,454.0 L383.9,454.0 L383.9,456.4 L384.3,456.4 L384.3,451.6 L384.8,451.6 L384.8,454.0 L385.2,454.0 L385.2,456.4 L385.7,456.4 L385.7,454.0 L386.1,454.0 L386.1,456.4 L386.6,456.4 L387.1,456.4 L387.1,454.0 L387.5,454.0 L387.5,456.4 L387.9,456.4 L387.9,458.7 L388.4,458.7 L388.4,463.5 L388.9,463.5 L388.9,470.6 L389.3,470.6 L389.8,470.6 L390.2,470.6 L390.2,472.9 L390.6,472.9 L390.6,470.6 L391.1,470.6 L391.1,468.2 L391.6,468.2 L391.6,470.6 L392.0,470.6 L392.5,470.6 L392.5,472.9 L392.9,472.9 L392.9,470.6 L393.4,470.6 L393.4,472.9 L393.9,472.9 L393.9,475.3 L394.3,475.3 L394.3,472.9 L394.8,472.9 L394.8,468.2 L395.2,468.2 L395.2,465.8 L395.7,465.8 L396.2,465.8 L396.2,458.7 L396.6,458.7 L397.1,458.7 L397.5,458.7 L398.0,458.7 L398.5,458.7 L398.9,458.7 L398.9,451.6 L399.4,451.6 L399.9,451.6 L399.9,449.2 L400.3,449.2 L400.3,454.0 L400.8,454.0 L401.2,454.0 L401.2,458.7 L401.7,458.7 L401.7,461.1 L402.2,461.1 L402.2,463.5 L402.6,463.5 L403.1,463.5 L403.1,461.1 L403.6,461.1 L403.6,468.2 L404.0,468.2 L404.5,468.2 L404.5,472.9 L404.9,472.9 L405.4,472.9 L405.4,475.3 L405.9,475.3 L405.9,480.1 L406.3,480.1 L406.8,480.1 L406.8,482.4 L407.3,482.4 L407.3,475.3 L407.8,475.3 L408.2,475.3 L408.2,472.9 L408.7,472.9 L408.7,470.6 L409.2,470.6 L409.2,468.2 L409.7,468.2 L410.2,468.2 L410.2,470.6 L410.6,470.6 L410.6,461.1 L411.1,461.1 L411.6,461.1 L411.6,458.7 L412.1,458.7 L412.1,461.1 L412.6,461.1 L412.6,456.4 L413.0,456.4 L413.5,456.4 L413.5,454.0 L414.0,454.0 L414.5,454.0 L414.5,456.4 L414.9,456.4 L415.4,456.4 L415.8,456.4 L415.8,454.0 L416.3,454.0 L416.3,456.4 L416.7,456.4 L416.7,461.1 L417.2,461.1 L417.2,458.7 L417.6,458.7 L417.6,463.5 L418.1,463.5 L418.1,458.7 L418.5,458.7 L418.5,456.4 L419.0,456.4 L419.4,456.4 L419.4,461.1 L419.9,461.1 L419.9,463.5 L420.3,463.5 L420.3,465.8 L420.8,465.8 L420.8,468.2 L421.2,468.2 L421.2,472.9 L421.7,472.9 L421.7,470.6 L422.1,470.6 L422.1,465.8 L422.6,465.8 L422.6,463.5 L423.1,463.5 L423.1,468.2 L423.5,468.2 L423.5,461.1 L423.9,461.1 L424.4,461.1 L424.4,463.5 L424.9,463.5 L424.9,461.1 L425.3,461.1 L425.3,456.4 L425.8,456.4 L426.2,456.4 L426.6,456.4 L427.1,456.4 L427.1,451.6 L427.6,451.6 L428.0,451.6 L428.0,449.2 L428.5,449.2 L428.5,451.6 L428.9,451.6 L428.9,456.4 L429.4,456.4 L429.4,454.0 L429.8,454.0 L429.8,451.6 L430.3,451.6 L430.3,456.4 L430.8,456.4 L430.8,461.1 L431.2,461.1 L431.2,463.5 L431.7,463.5 L432.2,463.5 L432.2,470.6 L432.6,470.6 L432.6,465.8 L433.1,465.8 L433.1,468.2 L433.5,468.2 L434.0,468.2 L434.0,470.6 L434.5,470.6 L434.5,468.2 L434.9,468.2 L434.9,470.6 L435.4,470.6 L435.4,463.5 L435.8,463.5 L435.8,458.7 L436.3,458.7 L436.3,454.0 L436.7,454.0 L436.7,456.4 L437.2,456.4 L437.2,454.0 L437.6,454.0 L438.1,454.0 L438.1,449.2 L438.5,449.2 L438.5,446.9 L439.0,446.9 L439.0,449.2 L439.5,449.2 L439.9,449.2 L439.9,451.6 L440.4,451.6 L440.8,451.6 L441.3,451.6 L441.3,446.9 L441.7,446.9 L441.7,454.0 L442.2,454.0 L442.6,454.0 L442.6,456.4 L443.1,456.4 L443.1,451.6 L443.5,451.6 L443.5,449.2 L444.0,449.2 L444.0,446.9 L444.5,446.9 L444.9,446.9 L444.9,451.6 L445.4,451.6 L445.9,451.6 L445.9,449.2 L446.4,449.2 L446.4,446.9 L446.9,446.9 L447.3,446.9 L447.3,444.5 L447.8,444.5 L447.8,442.1 L448.3,442.1 L448.3,439.8 L448.8,439.8 L448.8,432.7 L449.2,432.7 L449.2,430.3 L449.7,430.3 L449.7,435.0 L450.2,435.0 L450.2,430.3 L450.7,430.3 L450.7,427.9 L451.1,427.9 L451.1,425.5 L451.6,425.5 L451.6,423.2 L452.1,423.2 L452.1,427.9 L452.5,427.9 L452.5,425.5 L453.0,425.5 L453.0,423.2 L453.5,423.2 L453.5,416.1 L453.9,416.1 L453.9,420.8 L454.4,420.8 L454.4,418.4 L454.8,418.4 L455.3,418.4 L455.3,423.2 L455.8,423.2 L455.8,427.9 L456.2,427.9 L456.2,423.2 L456.7,423.2 L456.7,427.9 L457.1,427.9 L457.1,430.3 L457.6,430.3 L457.6,427.9 L458.1,427.9 L458.1,430.3 L458.5,430.3 L458.5,425.5 L459.0,425.5 L459.5,425.5 L459.9,425.5 L459.9,427.9 L460.4,427.9 L460.4,435.0 L460.9,435.0 L461.3,435.0 L461.8,435.0 L461.8,437.4 L462.3,437.4 L462.3,442.1 L462.8,442.1 L462.8,444.5 L463.2,444.5 L463.2,451.6 L463.7,451.6 L463.7,449.2 L464.2,449.2 L464.6,449.2 L464.6,451.6 L465.1,451.6 L465.1,456.4 L465.6,456.4 L466.0,456.4 L466.0,461.1 L466.5,461.1 L466.5,468.2 L467.0,468.2 L467.0,465.8 L467.4,465.8 L467.9,465.8 L467.9,470.6 L468.3,470.6 L468.3,468.2 L468.8,468.2 L468.8,465.8 L469.2,465.8 L469.7,465.8 L469.7,468.2 L470.1,468.2 L470.1,470.6 L470.6,470.6 L471.0,470.6 L471.5,470.6 L471.5,475.3 L472.0,475.3 L472.4,475.3 L472.4,468.2 L472.9,468.2 L472.9,465.8 L473.3,465.8 L473.8,465.8 L474.2,465.8 L474.2,463.5 L474.7,463.5 L474.7,461.1 L475.1,461.1 L475.1,458.7 L475.6,458.7 L475.6,454.0 L476.0,454.0 L476.5,454.0 L477.0,454.0 L477.0,456.4 L477.4,456.4 L477.9,456.4 L478.3,456.4 L478.8,456.4 L479.2,456.4 L479.2,461.1 L479.7,461.1 L480.2,461.1 L480.2,465.8 L480.6,465.8 L480.6,463.5 L481.1,463.5 L481.1,465.8 L481.5,465.8 L481.5,463.5 L482.0,463.5 L482.0,465.8 L482.5,465.8 L482.9,465.8 L482.9,468.2 L483.4,468.2 L483.9,468.2 L484.4,468.2 L484.8,468.2 L485.3,468.2 L485.8,468.2 L485.8,470.6 L486.2,470.6 L486.2,468.2 L486.7,468.2 L486.7,465.8 L487.2,465.8 L487.6,465.8 L487.6,463.5 L488.1,463.5 L488.1,465.8 L488.6,465.8 L488.6,468.2 L489.1,468.2 L489.5,468.2 L489.5,465.8 L490.0,465.8 L490.0,461.1 L490.5,461.1 L490.5,463.5 L490.9,463.5 L491.4,463.5 L491.4,468.2 L491.9,468.2 L491.9,465.8 L492.3,465.8 L492.8,465.8 L492.8,470.6 L493.3,470.6 L493.3,468.2 L493.7,468.2 L494.2,468.2 L494.2,472.9 L494.7,472.9 L494.7,477.7 L495.1,477.7 L495.1,475.3 L495.6,475.3 L496.1,475.3 L496.1,472.9 L496.5,472.9 L496.5,475.3 L497.0,475.3 L497.5,475.3 L497.9,475.3 L498.4,475.3 L498.9,475.3 L498.9,477.7 L499.4,477.7 L499.8,477.7 L499.8,482.4 L500.3,482.4 L500.8,482.4 L500.8,477.7 L501.2,477.7 L501.7,477.7 L501.7,475.3 L502.2,475.3 L502.2,477.7 L502.6,477.7 L502.6,482.4 L503.1,482.4 L503.1,484.8 L503.6,484.8 L504.1,484.8 L504.1,487.2 L504.5,487.2 L504.5,484.8 L505.0,484.8 L505.5,484.8 L505.9,484.8 L505.9,487.2 L506.4,487.2 L506.4,494.3 L506.9,494.3 L506.9,491.9 L507.4,491.9 L507.4,499.0 L507.8,499.0 L507.8,501.4 L508.3,501.4 L508.8,501.4 L509.2,501.4 L509.7,501.4 L509.7,503.8 L510.2,503.8 L510.6,503.8 L510.6,499.0 L511.1,499.0 L511.5,499.0 L512.0,499.0 L512.0,494.3 L512.4,494.3 L512.4,489.5 L512.9,489.5 L512.9,487.2 L513.3,487.2 L513.3,484.8 L513.8,484.8 L513.8,477.7 L514.2,477.7 L514.7,477.7 L514.7,475.3 L515.2,475.3 L515.2,470.6 L515.6,470.6 L515.6,475.3 L516.1,475.3 L516.1,470.6 L516.5,470.6 L516.5,465.8 L517.0,465.8 L517.4,465.8 L517.4,458.7 L517.9,458.7 L518.4,458.7 L518.4,456.4 L518.8,456.4 L518.8,454.0 L519.3,454.0 L519.7,454.0 L519.7,456.4 L520.2,456.4 L520.2,458.7 L520.6,458.7 L520.6,456.4 L521.1,456.4 L521.5,456.4 L522.0,456.4 L522.0,451.6 L522.5,451.6 L522.9,451.6 L522.9,449.2 L523.4,449.2 L523.4,444.5 L523.8,444.5 L523.8,449.2 L524.3,449.2 L524.7,449.2 L524.7,446.9 L525.2,446.9 L525.2,444.5 L525.6,444.5 L526.1,444.5 L526.1,439.8 L526.5,439.8 L526.5,437.4 L527.0,437.4 L527.0,435.0 L527.5,435.0 L527.9,435.0 L527.9,432.7 L528.4,432.7 L528.4,437.4 L528.8,437.4 L529.3,437.4 L529.3,432.7 L529.7,432.7 L529.7,430.3 L530.2,430.3 L530.2,427.9 L530.6,427.9 L531.1,427.9 L531.1,430.3 L531.5,430.3 L531.5,427.9 L532.0,427.9 L532.0,423.2 L532.5,423.2 L532.9,423.2 L532.9,425.5 L533.4,425.5 L533.4,427.9 L533.8,427.9 L533.8,430.3 L534.3,430.3 L534.3,425.5 L534.7,425.5 L534.7,427.9 L535.2,427.9 L535.2,425.5 L535.6,425.5 L536.1,425.5 L536.1,427.9 L536.5,427.9 L537.0,427.9 L537.0,425.5 L537.5,425.5 L537.5,427.9 L537.9,427.9 L537.9,423.2 L538.4,423.2 L538.4,420.8 L538.9,420.8 L538.9,425.5 L539.3,425.5 L539.8,425.5 L539.8,423.2 L540.3,423.2 L540.8,423.2 L540.8,425.5 L541.2,425.5 L541.2,430.3 L541.7,430.3 L541.7,432.7 L542.2,432.7 L542.6,432.7 L542.6,425.5 L543.1,425.5 L543.1,427.9 L543.6,427.9 L543.6,430.3 L544.0,430.3 L544.5,430.3 L545.0,430.3 L545.0,427.9 L545.4,427.9 L545.4,430.3 L545.9,430.3 L545.9,432.7 L546.3,432.7 L546.3,427.9 L546.8,427.9 L546.8,420.8 L547.2,420.8 L547.2,425.5 L547.7,425.5 L547.7,420.8 L548.1,420.8 L548.1,423.2 L548.6,423.2 L549.0,423.2 L549.0,416.1 L549.5,416.1 L550.0,416.1 L550.0,413.7 L550.4,413.7 L550.4,416.1 L550.9,416.1 L550.9,418.4 L551.3,418.4 L551.3,423.2 L551.8,423.2 L551.8,420.8 L552.2,420.8 L552.7,420.8 L552.7,423.2 L553.1,423.2 L553.1,420.8 L553.6,420.8 L553.6,418.4 L554.0,418.4 L554.0,425.5 L554.5,425.5 L554.5,420.8 L555.0,420.8 L555.0,418.4 L555.4,418.4 L555.9,418.4 L555.9,416.1 L556.4,416.1 L556.4,411.3 L556.8,411.3 L556.8,416.1 L557.3,416.1 L557.8,416.1 L557.8,413.7 L558.2,413.7 L558.7,413.7 L559.2,413.7 L559.2,411.3 L559.7,411.3 L559.7,413.7 L560.1,413.7 L560.1,420.8 L560.6,420.8 L561.1,420.8 L561.5,420.8 L561.5,413.7 L562.0,413.7 L562.5,413.7 L562.5,411.3 L562.9,411.3 L562.9,413.7 L563.4,413.7 L563.8,413.7 L564.3,413.7 L564.3,411.3 L564.7,411.3 L565.2,411.3 L565.2,406.6 L565.6,406.6 L565.6,409.0 L566.1,409.0 L566.1,406.6 L566.5,406.6 L566.5,404.2 L567.0,404.2 L567.0,406.6 L567.5,406.6 L567.9,406.6 L567.9,409.0 L568.4,409.0 L568.4,411.3 L568.9,411.3 L569.3,411.3 L569.8,411.3 L570.2,411.3 L570.7,411.3 L570.7,406.6 L571.2,406.6 L571.2,409.0 L571.6,409.0 L571.6,406.6 L572.1,406.6 L572.1,404.2 L572.5,404.2 L572.5,406.6 L573.0,406.6 L573.5,406.6 L573.5,409.0 L573.9,409.0 L573.9,411.3 L574.4,411.3 L574.4,404.2 L574.9,404.2 L574.9,406.6 L575.3,406.6 L575.3,413.7 L575.8,413.7 L576.2,413.7 L576.2,416.1 L576.7,416.1 L576.7,413.7 L577.1,413.7 L577.1,406.6 L577.6,406.6 L578.1,406.6 L578.1,409.0 L578.5,409.0 L578.5,411.3 L579.0,411.3 L579.0,409.0 L579.4,409.0 L579.9,409.0 L580.3,409.0 L580.3,404.2 L580.8,404.2 L580.8,406.6 L581.3,406.6 L581.3,411.3 L581.7,411.3 L581.7,416.1 L582.2,416.1 L582.2,413.7 L582.6,413.7 L582.6,416.1 L583.1,416.1 L583.1,411.3 L583.5,411.3 L583.5,409.0 L584.0,409.0 L584.0,404.2 L584.5,404.2 L584.5,409.0 L584.9,409.0 L585.4,409.0 L585.4,418.4 L585.8,418.4 L585.8,416.1 L586.3,416.1 L586.7,416.1 L586.7,411.3 L587.2,411.3 L587.2,418.4 L587.6,418.4 L587.6,416.1 L588.1,416.1 L588.1,418.4 L588.5,418.4 L588.5,413.7 L589.0,413.7 L589.0,418.4 L589.5,418.4 L589.5,420.8 L589.9,420.8 L589.9,418.4 L590.4,418.4 L590.8,418.4 L591.3,418.4 L591.3,420.8 L591.7,420.8 L591.7,418.4 L592.2,418.4 L592.2,420.8 L592.6,420.8 L592.6,418.4 L593.1,418.4 L593.1,416.1 L593.5,416.1 L593.5,413.7 L594.0,413.7 L594.0,406.6 L594.5,406.6 L594.5,409.0 L594.9,409.0 L594.9,413.7 L595.4,413.7 L595.4,416.1 L595.8,416.1 L595.8,413.7 L596.3,413.7 L596.3,416.1 L596.7,416.1 L596.7,411.3 L597.2,411.3 L597.2,413.7 L597.6,413.7 L597.6,416.1 L598.1,416.1 L598.1,418.4 L598.5,418.4 L598.5,416.1 L599.0,416.1 L599.0,418.4 L599.4,418.4 L599.4,423.2 L599.9,423.2 L599.9,420.8 L600.3,420.8 L600.8,420.8 L600.8,416.1 L601.2,416.1 L601.2,413.7 L601.7,413.7 L601.7,418.4 L602.2,418.4 L602.6,418.4 L602.6,420.8 L603.1,420.8 L603.5,420.8 L604.0,420.8 L604.0,425.5 L604.4,425.5 L604.4,427.9 L604.9,427.9 L605.4,427.9 L605.4,423.2 L605.8,423.2 L605.8,427.9 L606.3,427.9 L606.3,430.3 L606.7,430.3 L607.2,430.3 L607.6,430.3 L607.6,437.4 L608.1,437.4 L608.1,435.0 L608.5,435.0 L609.0,435.0 L609.0,427.9 L609.5,427.9 L609.5,430.3 L609.9,430.3 L610.4,430.3 L610.4,435.0 L610.8,435.0 L610.8,437.4 L611.3,437.4 L611.7,437.4 L611.7,444.5 L612.2,444.5 L612.2,442.1 L612.6,442.1 L613.1,442.1 L613.1,446.9 L613.5,446.9 L613.5,444.5 L614.0,444.5 L614.0,449.2 L614.5,449.2 L614.5,451.6 L615.0,451.6 L615.4,451.6 L615.4,458.7 L615.9,458.7 L616.4,458.7 L616.9,458.7 L617.3,458.7 L617.3,456.4 L617.8,456.4 L618.3,456.4 L618.3,461.1 L618.8,461.1 L619.2,461.1 L619.2,465.8 L619.7,465.8 L619.7,461.1 L620.2,461.1 L620.2,463.5 L620.6,463.5 L621.1,463.5 L621.1,470.6 L621.6,470.6 L621.6,472.9 L622.1,472.9 L622.5,472.9 L622.5,470.6 L623.0,470.6 L623.0,475.3 L623.5,475.3 L623.9,475.3 L623.9,477.7 L624.4,477.7 L624.4,472.9 L624.8,472.9 L624.8,477.7 L625.3,477.7 L625.3,480.1 L625.8,480.1 L626.2,480.1 L626.2,482.4 L626.7,482.4 L627.1,482.4 L627.1,480.1 L627.6,480.1 L627.6,482.4 L628.1,482.4 L628.5,482.4 L629.0,482.4 L629.5,482.4 L629.5,480.1 L630.0,480.1 L630.0,482.4 L630.4,482.4 L630.9,482.4 L630.9,480.1 L631.4,480.1 L631.4,484.8 L631.9,484.8 L631.9,477.7 L632.3,477.7 L632.3,475.3 L632.8,475.3 L632.8,480.1 L633.3,480.1 L633.3,477.7 L633.8,477.7 L633.8,472.9 L634.2,472.9 L634.2,475.3 L634.7,475.3 L634.7,477.7 L635.2,477.7 L635.2,472.9 L635.6,472.9 L636.1,472.9 L636.1,470.6 L636.6,470.6 L636.6,468.2 L637.1,468.2 L637.1,470.6 L637.6,470.6 L637.6,472.9 L638.0,472.9 L638.0,470.6 L638.5,470.6 L638.5,475.3 L639.0,475.3 L639.5,475.3 L639.5,477.7 L640.0,477.7 L640.0,480.1 L640.5,480.1 L640.5,484.8 L641.0,484.8 L641.4,484.8 L641.4,482.4 L641.9,482.4 L642.4,482.4 L642.4,484.8 L642.9,484.8 L642.9,494.3 L643.3,494.3 L643.3,499.0 L643.8,499.0 L644.2,499.0 L644.2,506.1 L644.6,506.1 L644.6,503.8 L645.1,503.8 L645.1,510.9 L645.5,510.9 L645.5,513.2 L646.0,513.2 L646.0,518.0 L646.5,518.0 L646.9,518.0 L646.9,515.6 L647.4,515.6 L647.8,515.6 L647.8,513.2 L648.3,513.2 L648.8,513.2 L648.8,515.6 L649.2,515.6 L649.2,525.1 L649.7,525.1 L649.7,520.4 L650.2,520.4 L650.2,515.6 L650.6,515.6 L650.6,510.9 L651.1,510.9 L651.1,513.2 L651.5,513.2 L651.5,506.1 L652.0,506.1 L652.5,506.1 L652.9,506.1 L652.9,503.8 L653.4,503.8 L653.4,508.5 L653.8,508.5 L654.3,508.5 L654.3,503.8 L654.7,503.8 L654.7,501.4 L655.2,501.4 L655.2,496.6 L655.6,496.6 L655.6,494.3 L656.1,494.3 L656.1,496.6 L656.5,496.6 L656.5,499.0 L657.0,499.0 L657.5,499.0 L657.9,499.0 L658.4,499.0 L658.4,503.8 L658.8,503.8 L658.8,501.4 L659.3,501.4 L659.3,503.8 L659.7,503.8 L659.7,510.9 L660.2,510.9 L660.2,515.6 L660.6,515.6 L660.6,513.2 L661.1,513.2 L661.1,515.6 L661.5,515.6 L661.5,520.4 L662.0,520.4 L662.0,525.1 L662.5,525.1 L662.5,518.0 L662.9,518.0 L663.4,518.0 L663.4,520.4 L663.8,520.4 L663.8,525.1 L664.3,525.1 L664.3,522.7 L664.8,522.7 L664.8,525.1 L665.2,525.1 L665.2,522.7 L665.7,522.7 L665.7,529.8 L666.1,529.8 L666.6,529.8 L666.6,527.5 L667.0,527.5 L667.5,527.5 L667.5,529.8 L668.0,529.8 L668.4,529.8 L668.4,527.5 L668.9,527.5 L668.9,529.8 L669.3,529.8 L669.3,525.1 L669.8,525.1 L669.8,527.5 L670.3,527.5 L670.3,522.7 L670.7,522.7 L670.7,520.4 L671.2,520.4 L671.6,520.4 L672.1,520.4 L672.1,522.7 L672.5,522.7 L672.5,525.1 L673.0,525.1 L673.0,522.7 L673.4,522.7 L673.4,518.0 L673.9,518.0 L673.9,520.4 L674.3,520.4 L674.3,513.2 L674.8,513.2 L674.8,508.5 L675.2,508.5 L675.2,515.6 L675.7,515.6 L675.7,518.0 L676.1,518.0 L676.1,520.4 L676.6,520.4 L676.6,518.0 L677.0,518.0 L677.0,515.6 L677.5,515.6 L677.9,515.6 L677.9,518.0 L678.4,518.0 L678.4,515.6 L678.9,515.6 L679.3,515.6 L679.3,513.2 L679.8,513.2 L680.2,513.2 L680.2,518.0 L680.6,518.0 L680.6,520.4 L681.1,520.4 L681.1,518.0 L681.6,518.0 L681.6,515.6 L682.0,515.6 L682.5,515.6 L682.5,520.4 L682.9,520.4 L682.9,518.0 L683.4,518.0 L683.8,518.0 L683.8,513.2 L684.2,513.2 L684.2,515.6 L684.7,515.6 L684.7,518.0 L685.2,518.0 L685.2,520.4 L685.6,520.4 L685.6,513.2 L686.1,513.2 L686.1,510.9 L686.5,510.9 L687.0,510.9 L687.0,508.5 L687.4,508.5 L687.4,503.8 L687.9,503.8 L688.3,503.8 L688.3,501.4 L688.8,501.4 L689.2,501.4 L689.7,501.4 L689.7,494.3 L690.2,494.3 L690.2,491.9 L690.6,491.9 L691.1,491.9 L691.1,487.2 L691.5,487.2 L691.5,484.8 L692.0,484.8 L692.0,487.2 L692.4,487.2 L692.4,482.4 L692.9,482.4 L692.9,484.8 L693.3,484.8 L693.8,484.8 L693.8,482.4 L694.2,482.4 L694.7,482.4 L695.2,482.4 L695.2,487.2 L695.7,487.2 L696.2,487.2 L696.7,487.2 L696.7,489.5 L697.2,489.5 L697.2,496.6 L697.6,496.6 L697.6,499.0 L698.1,499.0 L698.1,496.6 L698.6,496.6 L698.6,499.0 L699.1,499.0 L699.6,499.0 L699.6,503.8 L700.1,503.8 L700.1,501.4 L700.5,501.4 L700.5,506.1 L701.0,506.1 L701.0,496.6 L701.4,496.6 L701.4,499.0 L701.9,499.0 L701.9,496.6 L702.3,496.6 L702.3,491.9 L702.8,491.9 L703.2,491.9 L703.2,487.2 L703.7,487.2 L704.1,487.2 L704.1,489.5 L704.6,489.5 L704.6,482.4 L705.1,482.4 L705.1,487.2 L705.6,487.2 L706.0,487.2 L706.0,491.9 L706.5,491.9 L707.0,491.9 L707.0,494.3 L707.5,494.3 L707.5,496.6 L707.9,496.6 L708.4,496.6 L708.9,496.6 L708.9,494.3 L709.4,494.3 L709.4,496.6 L709.8,496.6 L709.8,499.0 L710.3,499.0 L710.3,506.1 L710.8,506.1 L710.8,499.0 L711.3,499.0 L711.3,496.6 L711.8,496.6 L711.8,499.0 L712.2,499.0 L712.2,494.3 L712.7,494.3 L713.2,494.3 L713.2,499.0 L713.7,499.0 L713.7,501.4 L714.1,501.4 L714.1,494.3 L714.6,494.3 L714.6,496.6 L715.1,496.6 L715.1,499.0 L715.6,499.0 L715.6,496.6 L716.0,496.6 L716.0,494.3 L716.5,494.3 L716.5,491.9 L717.0,491.9 L717.0,489.5 L717.5,489.5 L717.9,489.5 L717.9,491.9 L718.4,491.9 L718.8,491.9 L718.8,499.0 L719.3,499.0 L719.3,496.6 L719.7,496.6 L719.7,489.5 L720.2,489.5 L720.2,491.9 L720.6,491.9 L720.6,494.3 L721.1,494.3 L721.1,496.6 L721.5,496.6 L721.5,499.0 L722.0,499.0 L722.0,496.6 L722.5,496.6 L722.5,501.4 L722.9,501.4 L722.9,496.6 L723.4,496.6 L723.8,496.6 L723.8,494.3 L724.3,494.3 L724.3,489.5 L724.7,489.5 L724.7,494.3 L725.2,494.3 L725.2,484.8 L725.6,484.8 L726.1,484.8 L726.1,487.2 L726.5,487.2 L726.5,484.8 L727.0,484.8 L727.0,487.2 L727.5,487.2 L727.9,487.2 L728.4,487.2 L728.4,496.6 L728.9,496.6 L728.9,494.3 L729.3,494.3 L729.8,494.3 L730.2,494.3 L730.7,494.3 L730.7,499.0 L731.2,499.0 L731.2,503.8 L731.7,503.8 L731.7,506.1 L732.1,506.1 L732.6,506.1 L732.6,510.9 L733.1,510.9 L733.1,508.5 L733.5,508.5 L733.5,510.9 L734.0,510.9 L734.0,513.2 L734.5,513.2 L734.5,515.6 L735.0,515.6 L735.0,518.0 L735.5,518.0 L735.5,520.4 L736.0,520.4 L736.5,520.4 L736.5,527.5 L737.0,527.5 L737.0,529.8 L737.4,529.8 L737.4,532.2 L737.9,532.2 L738.4,532.2 L738.4,534.6 L738.9,534.6 L738.9,536.9 L739.4,536.9 L739.4,539.3 L739.9,539.3 L739.9,544.0 L740.3,544.0 L740.3,541.7 L740.8,541.7 L741.2,541.7 L741.2,539.3 L741.7,539.3 L741.7,532.2 L742.1,532.2 L742.6,532.2 L742.6,536.9 L743.0,536.9 L743.0,541.7 L743.5,541.7 L743.9,541.7 L743.9,546.4 L744.4,546.4 L744.4,551.2 L744.9,551.2 L744.9,548.8 L745.4,548.8 L745.4,553.5 L745.8,553.5 L745.8,555.5 L746.3,555.5 L746.3,553.5 L746.8,553.5 L746.8,551.2 L747.3,551.2 L747.3,555.5 L747.7,555.5 L747.7,553.5 L748.2,553.5 L748.2,551.2 L748.7,551.2 L748.7,553.5 L749.2,553.5 L749.2,551.2 L749.6,551.2 L749.6,555.5 L750.1,555.5 L750.6,555.5 L806.5,555.5 L806.5,555.5" fill="none" stroke="#0f2036" stroke-opacity="0.205" stroke-width="3.5" stroke-linejoin="round" stroke-linecap="square"/>
<path d="M124.0,82.8 L127.4,89.4 L130.9,95.9 L134.3,102.4 L137.7,108.7 L141.1,115.0 L144.6,121.2 L148.0,127.2 L151.4,133.2 L154.9,139.2 L158.3,145.0 L161.7,150.7 L165.2,156.4 L168.6,162.0 L172.0,167.5 L175.4,172.9 L178.9,178.3 L182.3,183.6 L185.7,188.8 L189.2,193.9 L192.6,199.0 L196.0,204.0 L199.5,208.9 L202.9,213.8 L206.3,218.6 L209.7,223.3 L213.2,227.9 L216.6,232.5 L220.0,237.1 L223.5,241.5 L226.9,245.9 L230.3,250.3 L233.7,254.5 L237.2,258.7 L240.6,262.9 L244.0,267.0 L247.5,271.1 L250.9,275.0 L254.3,279.0 L257.8,282.8 L261.2,286.7 L264.6,290.4 L268.0,294.1 L271.5,297.8 L274.9,301.4 L278.3,305.0 L281.8,308.5 L285.2,312.0 L288.6,315.4 L292.1,318.7 L295.5,322.1 L298.9,325.3 L302.3,328.6 L305.8,331.7 L309.2,334.9 L312.6,338.0 L316.1,341.0 L319.5,344.0 L322.9,347.0 L326.3,349.9 L329.8,352.8 L333.2,355.6 L336.6,358.4 L340.1,361.2 L343.5,363.9 L346.9,366.6 L350.4,369.3 L353.8,371.9 L357.2,374.4 L360.6,377.0 L364.1,379.5 L367.5,382.0 L370.9,384.4 L374.4,386.8 L377.8,389.2 L381.2,391.5 L384.7,393.8 L388.1,396.1 L391.5,398.3 L394.9,400.5 L398.4,402.7 L401.8,404.8 L405.2,406.9 L408.7,409.0 L412.1,411.1 L415.5,413.1 L418.9,415.1 L422.4,417.1 L425.8,419.0 L429.2,420.9 L432.7,422.8 L436.1,424.7 L439.5,426.5 L443.0,428.3 L446.4,430.1 L449.8,431.9 L453.2,433.6 L456.7,435.3 L460.1,437.0 L463.5,438.7 L467.0,440.3 L470.4,441.9 L473.8,443.5 L477.3,445.1 L480.7,446.6 L484.1,448.2 L487.5,449.7 L491.0,451.2 L494.4,452.6 L497.8,454.1 L501.3,455.5 L504.7,456.9 L508.1,458.3 L511.6,459.7 L515.0,461.0 L518.4,462.3 L521.8,463.6 L525.3,464.9 L528.7,466.2 L532.1,467.5 L535.6,468.7 L539.0,469.9 L542.4,471.1 L545.8,472.3 L549.3,473.5 L552.7,474.6 L556.1,475.8 L559.6,476.9 L563.0,478.0 L566.4,479.1 L569.9,480.2 L573.3,481.2 L576.7,482.3 L580.1,483.3 L583.6,484.3 L587.0,485.3 L590.4,486.3 L593.9,487.3 L597.3,488.2 L600.7,489.2 L604.2,490.1 L607.6,491.0 L611.0,491.9 L614.4,492.8 L617.9,493.7 L621.3,494.6 L624.7,495.5 L628.2,496.3 L631.6,497.1 L635.0,498.0 L638.4,498.8 L641.9,499.6 L645.3,500.4 L648.7,501.1 L652.2,501.9 L655.6,502.7 L659.0,503.4 L662.5,504.1 L665.9,504.9 L669.3,505.6 L672.7,506.3 L676.2,507.0 L679.6,507.7 L683.0,508.3 L686.5,509.0 L689.9,509.7 L693.3,510.3 L696.8,510.9 L700.2,511.6 L703.6,512.2 L707.0,512.8 L710.5,513.4 L713.9,514.0 L717.3,514.6 L720.8,515.2 L724.2,515.7 L727.6,516.3 L731.0,516.8 L734.5,517.4 L737.9,517.9 L741.3,518.5 L744.8,519.0 L748.2,519.5 L751.6,520.0 L755.1,520.5 L758.5,521.0 L761.9,521.5 L765.3,522.0 L768.8,522.5 L772.2,522.9 L775.6,523.4 L779.1,523.8 L782.5,524.3 L785.9,524.7 L789.4,525.2 L792.8,525.6 L796.2,526.0 L799.6,526.4 L803.1,526.9 L806.5,527.3" fill="none" stroke="#e87b1e" stroke-opacity="0.8" stroke-width="10.8" stroke-linecap="square" stroke-linejoin="round"/>
<polygon points="118.55,74.40 129.45,74.40 129.45,81.95 137.00,81.95 137.00,92.85 129.45,92.85 129.45,100.40 118.55,100.40 118.55,92.85 111.00,92.85 111.00,81.95 118.55,81.95" fill="#ffffff"/>
<polygon points="120.25,76.10 127.75,76.10 127.75,83.65 135.30,83.65 135.30,91.15 127.75,91.15 127.75,98.70 120.25,98.70 120.25,91.15 112.70,91.15 112.70,83.65 120.25,83.65" fill="#1489b3"/>
<polygon points="160.80,138.90 171.70,138.90 171.70,146.45 179.25,146.45 179.25,157.35 171.70,157.35 171.70,164.90 160.80,164.90 160.80,157.35 153.25,157.35 153.25,146.45 160.80,146.45" fill="#ffffff"/>
<polygon points="162.50,140.60 170.00,140.60 170.00,148.15 177.55,148.15 177.55,155.65 170.00,155.65 170.00,163.20 162.50,163.20 162.50,155.65 154.95,155.65 154.95,148.15 162.50,148.15" fill="#1489b3"/>
<polygon points="203.05,184.90 213.95,184.90 213.95,192.45 221.50,192.45 221.50,203.35 213.95,203.35 213.95,210.90 203.05,210.90 203.05,203.35 195.50,203.35 195.50,192.45 203.05,192.45" fill="#ffffff"/>
<polygon points="204.75,186.60 212.25,186.60 212.25,194.15 219.80,194.15 219.80,201.65 212.25,201.65 212.25,209.20 204.75,209.20 204.75,201.65 197.20,201.65 197.20,194.15 204.75,194.15" fill="#1489b3"/>
<polygon points="245.30,251.00 256.20,251.00 256.20,258.55 263.75,258.55 263.75,269.45 256.20,269.45 256.20,277.00 245.30,277.00 245.30,269.45 237.75,269.45 237.75,258.55 245.30,258.55" fill="#ffffff"/>
<polygon points="247.00,252.70 254.50,252.70 254.50,260.25 262.05,260.25 262.05,267.75 254.50,267.75 254.50,275.30 247.00,275.30 247.00,267.75 239.45,267.75 239.45,260.25 247.00,260.25" fill="#1489b3"/>
<polygon points="287.55,298.60 298.45,298.60 298.45,306.15 306.00,306.15 306.00,317.05 298.45,317.05 298.45,324.60 287.55,324.60 287.55,317.05 280.00,317.05 280.00,306.15 287.55,306.15" fill="#ffffff"/>
<polygon points="289.25,300.30 296.75,300.30 296.75,307.85 304.30,307.85 304.30,315.35 296.75,315.35 296.75,322.90 289.25,322.90 289.25,315.35 281.70,315.35 281.70,307.85 289.25,307.85" fill="#1489b3"/>
<polygon points="329.80,334.10 340.70,334.10 340.70,341.65 348.25,341.65 348.25,352.55 340.70,352.55 340.70,360.10 329.80,360.10 329.80,352.55 322.25,352.55 322.25,341.65 329.80,341.65" fill="#ffffff"/>
<polygon points="331.50,335.80 339.00,335.80 339.00,343.35 346.55,343.35 346.55,350.85 339.00,350.85 339.00,358.40 331.50,358.40 331.50,350.85 323.95,350.85 323.95,343.35 331.50,343.35" fill="#1489b3"/>
<polygon points="372.05,378.40 382.95,378.40 382.95,385.95 390.50,385.95 390.50,396.85 382.95,396.85 382.95,404.40 372.05,404.40 372.05,396.85 364.50,396.85 364.50,385.95 372.05,385.95" fill="#ffffff"/>
<polygon points="373.75,380.10 381.25,380.10 381.25,387.65 388.80,387.65 388.80,395.15 381.25,395.15 381.25,402.70 373.75,402.70 373.75,395.15 366.20,395.15 366.20,387.65 373.75,387.65" fill="#1489b3"/>
<polygon points="414.30,403.50 425.20,403.50 425.20,411.05 432.75,411.05 432.75,421.95 425.20,421.95 425.20,429.50 414.30,429.50 414.30,421.95 406.75,421.95 406.75,411.05 414.30,411.05" fill="#ffffff"/>
<polygon points="416.00,405.20 423.50,405.20 423.50,412.75 431.05,412.75 431.05,420.25 423.50,420.25 423.50,427.80 416.00,427.80 416.00,420.25 408.45,420.25 408.45,412.75 416.00,412.75" fill="#1489b3"/>
<polygon points="456.55,432.10 467.45,432.10 467.45,439.65 475.00,439.65 475.00,450.55 467.45,450.55 467.45,458.10 456.55,458.10 456.55,450.55 449.00,450.55 449.00,439.65 456.55,439.65" fill="#ffffff"/>
<polygon points="458.25,433.80 465.75,433.80 465.75,441.35 473.30,441.35 473.30,448.85 465.75,448.85 465.75,456.40 458.25,456.40 458.25,448.85 450.70,448.85 450.70,441.35 458.25,441.35" fill="#1489b3"/>
<polygon points="498.80,446.00 509.70,446.00 509.70,453.55 517.25,453.55 517.25,464.45 509.70,464.45 509.70,472.00 498.80,472.00 498.80,464.45 491.25,464.45 491.25,453.55 498.80,453.55" fill="#ffffff"/>
<polygon points="500.50,447.70 508.00,447.70 508.00,455.25 515.55,455.25 515.55,462.75 508.00,462.75 508.00,470.30 500.50,470.30 500.50,462.75 492.95,462.75 492.95,455.25 500.50,455.25" fill="#1489b3"/>
<polygon points="541.05,451.00 551.95,451.00 551.95,458.55 559.50,458.55 559.50,469.45 551.95,469.45 551.95,477.00 541.05,477.00 541.05,469.45 533.50,469.45 533.50,458.55 541.05,458.55" fill="#ffffff"/>
<polygon points="542.75,452.70 550.25,452.70 550.25,460.25 557.80,460.25 557.80,467.75 550.25,467.75 550.25,475.30 542.75,475.30 542.75,467.75 535.20,467.75 535.20,460.25 542.75,460.25" fill="#1489b3"/>
<polygon points="583.30,469.00 594.20,469.00 594.20,476.55 601.75,476.55 601.75,487.45 594.20,487.45 594.20,495.00 583.30,495.00 583.30,487.45 575.75,487.45 575.75,476.55 583.30,476.55" fill="#ffffff"/>
<polygon points="585.00,470.70 592.50,470.70 592.50,478.25 600.05,478.25 600.05,485.75 592.50,485.75 592.50,493.30 585.00,493.30 585.00,485.75 577.45,485.75 577.45,478.25 585.00,478.25" fill="#1489b3"/>
<polygon points="625.55,484.50 636.45,484.50 636.45,492.05 644.00,492.05 644.00,502.95 636.45,502.95 636.45,510.50 625.55,510.50 625.55,502.95 618.00,502.95 618.00,492.05 625.55,492.05" fill="#ffffff"/>
<polygon points="627.25,486.20 634.75,486.20 634.75,493.75 642.30,493.75 642.30,501.25 634.75,501.25 634.75,508.80 627.25,508.80 627.25,501.25 619.70,501.25 619.70,493.75 627.25,493.75" fill="#1489b3"/>
<polygon points="667.80,499.70 678.70,499.70 678.70,507.25 686.25,507.25 686.25,518.15 678.70,518.15 678.70,525.70 667.80,525.70 667.80,518.15 660.25,518.15 660.25,507.25 667.80,507.25" fill="#ffffff"/>
<polygon points="669.50,501.40 677.00,501.40 677.00,508.95 684.55,508.95 684.55,516.45 677.00,516.45 677.00,524.00 669.50,524.00 669.50,516.45 661.95,516.45 661.95,508.95 669.50,508.95" fill="#1489b3"/>
<polygon points="710.05,502.70 720.95,502.70 720.95,510.25 728.50,510.25 728.50,521.15 720.95,521.15 720.95,528.70 710.05,528.70 710.05,521.15 702.50,521.15 702.50,510.25 710.05,510.25" fill="#ffffff"/>
<polygon points="711.75,504.40 719.25,504.40 719.25,511.95 726.80,511.95 726.80,519.45 719.25,519.45 719.25,527.00 711.75,527.00 711.75,519.45 704.20,519.45 704.20,511.95 711.75,511.95" fill="#1489b3"/>
<polygon points="752.30,513.90 763.20,513.90 763.20,521.45 770.75,521.45 770.75,532.35 763.20,532.35 763.20,539.90 752.30,539.90 752.30,532.35 744.75,532.35 744.75,521.45 752.30,521.45" fill="#ffffff"/>
<polygon points="754.00,515.60 761.50,515.60 761.50,523.15 769.05,523.15 769.05,530.65 761.50,530.65 761.50,538.20 754.00,538.20 754.00,530.65 746.45,530.65 746.45,523.15 754.00,523.15" fill="#1489b3"/>
<polygon points="794.55,518.30 805.45,518.30 805.45,525.85 813.00,525.85 813.00,536.75 805.45,536.75 805.45,544.30 794.55,544.30 794.55,536.75 787.00,536.75 787.00,525.85 794.55,525.85" fill="#ffffff"/>
<polygon points="796.25,520.00 803.75,520.00 803.75,527.55 811.30,527.55 811.30,535.05 803.75,535.05 803.75,542.60 796.25,542.60 796.25,535.05 788.70,535.05 788.70,527.55 796.25,527.55" fill="#1489b3"/>
</g>
<rect x="81.2" y="36.6" width="761.8" height="566.6" fill="none" stroke="#000" stroke-width="1.9"/>
<line x1="124.0" y1="603.2" x2="124.0" y2="611.2" stroke="#000" stroke-width="1.9"/>
<text x="124.0" y="635.4" font-size="21.3" text-anchor="middle" textLength="13.2" lengthAdjust="spacingAndGlyphs">0</text>
<line x1="293.0" y1="603.2" x2="293.0" y2="611.2" stroke="#000" stroke-width="1.9"/>
<text x="293.0" y="635.4" font-size="21.3" text-anchor="middle" textLength="67.1" lengthAdjust="spacingAndGlyphs">10000</text>
<line x1="462.0" y1="603.2" x2="462.0" y2="611.2" stroke="#000" stroke-width="1.9"/>
<text x="462.0" y="635.4" font-size="21.3" text-anchor="middle" textLength="67.1" lengthAdjust="spacingAndGlyphs">20000</text>
<line x1="631.0" y1="603.2" x2="631.0" y2="611.2" stroke="#000" stroke-width="1.9"/>
<text x="631.0" y="635.4" font-size="21.3" text-anchor="middle" textLength="67.1" lengthAdjust="spacingAndGlyphs">30000</text>
<line x1="800.0" y1="603.2" x2="800.0" y2="611.2" stroke="#000" stroke-width="1.9"/>
<text x="800.0" y="635.4" font-size="21.3" text-anchor="middle" textLength="67.1" lengthAdjust="spacingAndGlyphs">40000</text>
<line x1="73.2" y1="555.9" x2="81.2" y2="555.9" stroke="#000" stroke-width="1.9"/>
<text x="32.8" y="564.4" font-size="21.3" textLength="33.0" lengthAdjust="spacingAndGlyphs">0.0</text>
<line x1="73.2" y1="461.3" x2="81.2" y2="461.3" stroke="#000" stroke-width="1.9"/>
<text x="32.8" y="469.8" font-size="21.3" textLength="33.0" lengthAdjust="spacingAndGlyphs">0.2</text>
<line x1="73.2" y1="366.7" x2="81.2" y2="366.7" stroke="#000" stroke-width="1.9"/>
<text x="32.8" y="375.2" font-size="21.3" textLength="33.0" lengthAdjust="spacingAndGlyphs">0.4</text>
<line x1="73.2" y1="272.0" x2="81.2" y2="272.0" stroke="#000" stroke-width="1.9"/>
<text x="32.8" y="280.5" font-size="21.3" textLength="33.0" lengthAdjust="spacingAndGlyphs">0.6</text>
<line x1="73.2" y1="177.4" x2="81.2" y2="177.4" stroke="#000" stroke-width="1.9"/>
<text x="32.8" y="185.9" font-size="21.3" textLength="33.0" lengthAdjust="spacingAndGlyphs">0.8</text>
<line x1="73.2" y1="82.8" x2="81.2" y2="82.8" stroke="#000" stroke-width="1.9"/>
<text x="32.8" y="91.3" font-size="21.3" textLength="33.0" lengthAdjust="spacingAndGlyphs">1.0</text>
<text x="461.7" y="663.8" font-size="21.3" text-anchor="middle" textLength="106" lengthAdjust="spacingAndGlyphs">Time step</text>
<text transform="translate(18.3,319.7) rotate(-90)" font-size="21.3" text-anchor="middle" textLength="317.5" lengthAdjust="spacingAndGlyphs">Proportion of nodes in state 1</text>
<text x="461" y="20.8" font-size="25.6" text-anchor="middle" textLength="592" lengthAdjust="spacingAndGlyphs">Cycles - Majority Rule Analysis and Simulation</text>
<rect x="470.6" y="47.3" width="361.8" height="102.8" rx="4" ry="4" fill="#ffffff" fill-opacity="0.8" stroke="#d4d4d4" stroke-width="1.6"/>
<line x1="476.5" y1="63.5" x2="520.1" y2="63.5" stroke="#0f2036" stroke-width="3.3" stroke-linecap="square"/>
<line x1="477.3" y1="96.4" x2="520.8" y2="96.4" stroke="#e87b1e" stroke-width="10.5" stroke-linecap="square"/>
<polygon points="495.15,118.95 502.85,118.95 502.85,126.45 510.35,126.45 510.35,134.15 502.85,134.15 502.85,141.65 495.15,141.65 495.15,134.15 487.65,134.15 487.65,126.45 495.15,126.45" fill="#1489b3"/>
<text x="536.3" y="70.8" font-size="21.3" textLength="236.5" lengthAdjust="spacingAndGlyphs">Simulation Timeseries</text>
<text x="537.2" y="102.6" font-size="21.3" textLength="286" lengthAdjust="spacingAndGlyphs">Analytic Expected Solution</text>
<text x="536" y="135.2" font-size="21.3" textLength="165.5" lengthAdjust="spacingAndGlyphs">Empirical Mean</text>
</svg>
</body></html>
